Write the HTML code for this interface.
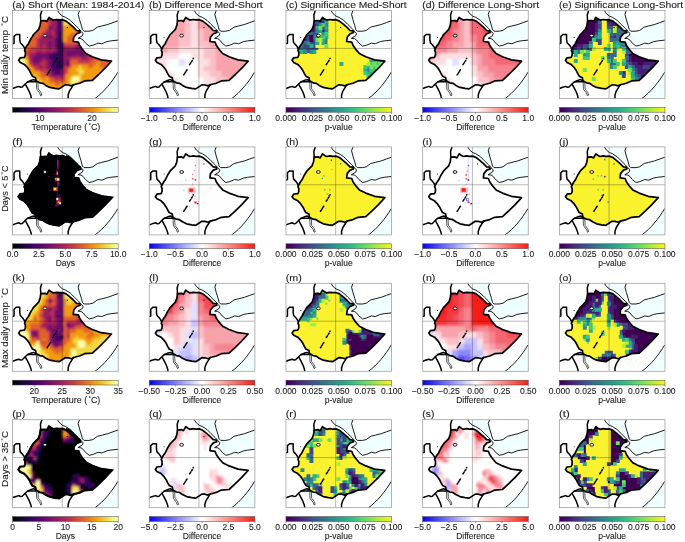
<!DOCTYPE html>
<html><head><meta charset="utf-8"><style>
html,body{margin:0;padding:0;background:#fff;}
body{width:685px;height:542px;overflow:hidden;}
svg{display:block;will-change:transform;}
text{font-family:"Liberation Sans",sans-serif;font-size:8.5px;fill:#222;stroke:#222;stroke-width:0.1px;}
</style></head><body>
<svg width="685" height="542" viewBox="0 0 685 542">
<defs>
<clipPath id="ethclip"><path d="M28.7,10.8 L32.9,10.5 L34.7,11.5 L37.0,7.4 L38.8,8.8 L41.1,10.1 L44.6,9.5 L47.0,9.9 L50.5,9.7 L54.0,11.1 L56.9,13.4 L61.3,17.2 L64.5,20.5 L67.5,20.8 L68.1,22.5 L64.6,23.7 L61.7,27.2 L61.2,31.5 L66.3,32.1 L67.5,35.3 L70.1,39.1 L73.9,43.5 L80.3,46.7 L89.2,49.9 L99.4,51.2 L93.0,58.2 L86.6,64.5 L80.3,70.3 L72.6,70.9 L67.5,73.2 L62.5,74.5 L59.3,75.9 L56.2,75.0 L53.1,74.9 L50.1,76.9 L47.0,78.9 L42.9,78.4 L37.8,77.4 L33.7,75.4 L30.7,73.3 L27.6,72.8 L24.0,70.8 L23.5,67.7 L20.4,66.2 L18.9,63.6 L17.4,60.5 L15.3,57.5 L12.3,54.4 L8.2,52.4 L6.6,50.3 L8.2,47.8 L12.3,47.3 L13.3,45.2 L13.3,42.0 L12.5,40.5 L13.3,38.3 L14.8,35.8 L16.4,33.7 L17.4,31.7 L18.9,28.6 L19.9,27.1 L21.5,24.5 L24.0,22.0 L26.6,19.4 L28.1,15.3 Z"/></clipPath>
<filter id="blur" x="-10%" y="-10%" width="120%" height="120%"><feGaussianBlur stdDeviation="1.3"/></filter>
<filter id="blurf" x="-10%" y="-10%" width="120%" height="120%"><feGaussianBlur stdDeviation="0.75"/></filter>
<filter id="blurs" x="-10%" y="-10%" width="120%" height="120%"><feGaussianBlur stdDeviation="1.0"/></filter>
<filter id="blur1" x="-50%" y="-50%" width="200%" height="200%"><feGaussianBlur stdDeviation="0.5"/></filter>
<clipPath id="boxclip"><rect x="0.5" y="0.5" width="105.6" height="88.0"/></clipPath>
<linearGradient id="g_inf" x1="0" x2="1" y1="0" y2="0"><stop offset="0.000" stop-color="#000003"/><stop offset="0.050" stop-color="#07031a"/><stop offset="0.100" stop-color="#160738"/><stop offset="0.150" stop-color="#290254"/><stop offset="0.200" stop-color="#3e0064"/><stop offset="0.250" stop-color="#52026a"/><stop offset="0.300" stop-color="#64086c"/><stop offset="0.350" stop-color="#770f6a"/><stop offset="0.400" stop-color="#8b1665"/><stop offset="0.450" stop-color="#9e1d5e"/><stop offset="0.500" stop-color="#b02754"/><stop offset="0.550" stop-color="#c13349"/><stop offset="0.600" stop-color="#d0443c"/><stop offset="0.650" stop-color="#de582e"/><stop offset="0.700" stop-color="#e8711f"/><stop offset="0.750" stop-color="#ef8c10"/><stop offset="0.800" stop-color="#f3a611"/><stop offset="0.850" stop-color="#f4c22a"/><stop offset="0.900" stop-color="#f2de4c"/><stop offset="0.950" stop-color="#f0f77a"/><stop offset="1.000" stop-color="#fcffa8"/></linearGradient><linearGradient id="g_vir" x1="0" x2="1" y1="0" y2="0"><stop offset="0.000" stop-color="#3f0051"/><stop offset="0.050" stop-color="#440862"/><stop offset="0.100" stop-color="#461b72"/><stop offset="0.150" stop-color="#452d7d"/><stop offset="0.200" stop-color="#423f84"/><stop offset="0.250" stop-color="#3d5189"/><stop offset="0.300" stop-color="#39608b"/><stop offset="0.350" stop-color="#34708c"/><stop offset="0.400" stop-color="#317f8d"/><stop offset="0.450" stop-color="#2d8e8d"/><stop offset="0.500" stop-color="#2a9d8b"/><stop offset="0.550" stop-color="#29aa89"/><stop offset="0.600" stop-color="#2eb884"/><stop offset="0.650" stop-color="#3ac57d"/><stop offset="0.700" stop-color="#4ed172"/><stop offset="0.750" stop-color="#67db65"/><stop offset="0.800" stop-color="#80e356"/><stop offset="0.850" stop-color="#9fea42"/><stop offset="0.900" stop-color="#bfef2e"/><stop offset="0.950" stop-color="#def121"/><stop offset="1.000" stop-color="#faf22d"/></linearGradient><linearGradient id="g_bwr" x1="0" x2="1" y1="0" y2="0"><stop offset="0.000" stop-color="#0200f4"/><stop offset="0.500" stop-color="#fffefe"/><stop offset="1.000" stop-color="#f81c12"/></linearGradient>
<g id="sea"><path d="M51.5,0.0 L67.8,0.0 L66.4,4.4 L67.8,9.7 L69.6,15.5 L70.7,19.7 L71.9,21.0 L77.1,21.0 L80.8,20.2 L85.3,16.9 L89.7,15.8 L95.7,14.3 L100.9,12.4 L106.0,10.5 L106.0,30.4 L98.7,31.1 L94.9,31.8 L89.7,34.0 L86.0,33.3 L80.8,35.5 L77.1,36.3 L73.4,33.3 L71.1,30.3 L68.9,28.8 L65.9,28.4 L70.6,25.6 L71.3,23.4 L69.0,21.2 L66.4,18.4 L62.3,14.4 L58.2,10.3 L53.5,7.3 L51.5,6.2 L50.3,3.5 Z"/><path d="M105.6,62.5 C100,72 92,82 83,88.5 L106,88.5 L106,62 Z"/></g>
<g id="lines" fill="none" stroke="#000" stroke-linejoin="round" stroke-linecap="round">
<path d="M30.0,0.0 L28.4,5.0 L28.7,10.8" stroke-width="1.5"/><path d="M0.0,33.8 L2.0,33.2 L2.0,26.4 L4.1,24.5 L7.7,24.5 L7.7,29.6 L8.2,32.7 L10.2,34.7 L11.8,36.8 L12.8,39.0" stroke-width="1.5"/><path d="M0.0,78.7 L3.2,77.5 L6.7,76.4 L8.6,77.3 L10.2,77.0 L13.1,74.0 L15.4,72.0 L19.4,70.2 L21.5,69.6 L24.0,70.8" stroke-width="1.5"/><path d="M15.5,71.8 L24.5,71.8" stroke-width="1.5"/><path d="M13.3,74.3 L15.3,77.9 L17.4,82.0 L18.9,86.1 L19.4,89.0" stroke-width="1.5"/><path d="M61.5,74.6 L57.4,81.1 L56.1,85.0 L56.1,89.0" stroke-width="1.5"/>
<path d="M45.3,0.3 L47.7,3.8 L50.6,6.2 L53.5,7.3 L58.2,10.3 L62.3,14.4 L66.4,18.4 L68.7,20.8" stroke-width="0.9"/><path d="M67.5,0.3 L66.1,4.4 L67.5,9.7 L69.3,15.5 L70.4,19.7 L71.9,21.2 L77.1,21.2 L80.8,20.4 L85.3,17.1 L89.7,16.0 L95.7,14.5 L100.9,12.6 L106.0,10.8" stroke-width="0.9"/><path d="M68.9,21.4 L71.1,23.4 L70.4,25.6 L65.9,28.4 L68.9,28.6 L71.1,30.1 L73.4,33.1 L77.1,36.1 L80.8,35.3 L86.0,33.1 L89.7,33.8 L94.9,31.6 L98.7,30.9 L106.0,30.1" stroke-width="0.9"/>
<path d="M105.6,62.5 C100,72 92,82 83,88.5" stroke-width="0.9"/>
<path d="M28.7,10.8 L32.9,10.5 L34.7,11.5 L37.0,7.4 L38.8,8.8 L41.1,10.1 L44.6,9.5 L47.0,9.9 L50.5,9.7 L54.0,11.1 L56.9,13.4 L61.3,17.2 L64.5,20.5 L67.5,20.8 L68.1,22.5 L64.6,23.7 L61.7,27.2 L61.2,31.5 L66.3,32.1 L67.5,35.3 L70.1,39.1 L73.9,43.5 L80.3,46.7 L89.2,49.9 L99.4,51.2 L93.0,58.2 L86.6,64.5 L80.3,70.3 L72.6,70.9 L67.5,73.2 L62.5,74.5 L59.3,75.9 L56.2,75.0 L53.1,74.9 L50.1,76.9 L47.0,78.9 L42.9,78.4 L37.8,77.4 L33.7,75.4 L30.7,73.3 L27.6,72.8 L24.0,70.8 L23.5,67.7 L20.4,66.2 L18.9,63.6 L17.4,60.5 L15.3,57.5 L12.3,54.4 L8.2,52.4 L6.6,50.3 L8.2,47.8 L12.3,47.3 L13.3,45.2 L13.3,42.0 L12.5,40.5 L13.3,38.3 L14.8,35.8 L16.4,33.7 L17.4,31.7 L18.9,28.6 L19.9,27.1 L21.5,24.5 L24.0,22.0 L26.6,19.4 L28.1,15.3 Z" stroke-width="1.7"/>
</g>
<g id="lakes"><ellipse cx="32.9" cy="25.6" rx="1.9" ry="1.4" fill="#fff" stroke="#000" stroke-width="0.9"/><path d="M24.3,72.5 L24.6,79.2 L27.6,83 L28.6,85.8 L29.8,85.2 L28.8,82.2 L26.2,79 L25.9,72.5 Z" fill="#f0ffff" stroke="#000" stroke-width="0.65"/><path d="M44.6,48.3 L44.4,48.7 M43.6,50.5 L42.8,51.6 M42,52.9 L40.8,54.7 M38.3,59.8 L37.4,61.1 M36.9,62 L36.3,62.9 M35.7,63.9 L35,64.9" stroke="#000" stroke-width="1.5" stroke-linecap="round" fill="none"/><circle cx="55.2" cy="17.4" r="0.6" fill="#000"/><circle cx="15.3" cy="27.6" r="0.5" fill="#000"/></g>
<path id="grid" d="M50.2,0.5 V88.5 M0.5,38.4 H106" stroke="#000" stroke-opacity="0.38" stroke-width="0.75" fill="none"/>
</defs>
<g transform="translate(12.06,10.00)"><g clip-path="url(#boxclip)">
<rect x="0.5" y="0.5" width="105.6" height="88.0" fill="#fff"/>
<use href="#sea" fill="#f0ffff"/>

<g clip-path="url(#ethclip)"><g filter="url(#blurs)"><path fill="#e16029" d="M0 0h24.9v10.9h-24.9zM75 0h21.9v10.9h-21.9zM0 10h36.9v3.9h-36.9zM72 10h21.9v3.9h-21.9zM0 13h36.9v3.9h-36.9zM69 13h21.9v3.9h-21.9zM0 16h36.9v3.9h-36.9zM66 16h21.9v3.9h-21.9zM0 19h33.9v3.9h-33.9zM63 19h21.9v3.9h-21.9zM0 22h30.9v3.9h-30.9zM57 22h24.9v3.9h-24.9zM99 22h11.9v3.9h-11.9zM0 25h27.9v3.9h-27.9zM54 25h24.9v3.9h-24.9zM96 25h14.9v3.9h-14.9zM0 28h24.9v3.9h-24.9zM54 28h21.9v3.9h-21.9zM93 28h17.9v3.9h-17.9zM0 31h24.9v3.9h-24.9zM51 31h15.9v3.9h-15.9zM90 31h20.9v3.9h-20.9zM0 34h24.9v3.9h-24.9zM87 34h23.9v3.9h-23.9zM0 37h18.9v3.9h-18.9zM84 37h26.9v3.9h-26.9zM0 40h15.9v3.9h-15.9zM81 40h29.9v3.9h-29.9zM9 43h6.9v3.9h-6.9zM81 43h29.9v3.9h-29.9zM81 46h29.9v3.9h-29.9zM15 49h3.9v3.9h-3.9zM57 49h9.9v3.9h-9.9zM78 49h32.9v3.9h-32.9zM15 52h3.9v3.9h-3.9zM57 52h27.9v3.9h-27.9zM87 52h23.9v3.9h-23.9zM18 55h3.9v3.9h-3.9zM57 55h3.9v3.9h-3.9zM75 55h6.9v3.9h-6.9zM87 55h23.9v3.9h-23.9zM21 58h3.9v3.9h-3.9zM54 58h3.9v3.9h-3.9zM93 58h17.9v3.9h-17.9zM27 61h6.9v3.9h-6.9zM54 61h3.9v3.9h-3.9zM96 61h14.9v3.9h-14.9zM27 64h9.9v3.9h-9.9zM51 64h3.9v3.9h-3.9zM99 64h11.9v3.9h-11.9zM30 67h3.9v3.9h-3.9zM36 67h6.9v3.9h-6.9zM51 67h3.9v3.9h-3.9zM36 70h18.9v3.9h-18.9zM42 73h6.9v3.9h-6.9zM51 73h3.9v3.9h-3.9z"/><path fill="#c33547" d="M24 0h12.9v10.9h-12.9zM36 10h3.9v3.9h-3.9zM36 13h3.9v3.9h-3.9zM33 19h3.9v3.9h-3.9zM39 19h3.9v3.9h-3.9zM30 22h3.9v3.9h-3.9zM39 22h3.9v3.9h-3.9zM27 25h3.9v3.9h-3.9zM24 28h3.9v3.9h-3.9zM24 31h3.9v3.9h-3.9zM24 34h3.9v3.9h-3.9zM30 34h3.9v3.9h-3.9zM51 34h12.9v3.9h-12.9zM18 37h18.9v3.9h-18.9zM39 37h3.9v3.9h-3.9zM15 40h9.9v3.9h-9.9zM30 40h3.9v3.9h-3.9zM15 43h3.9v3.9h-3.9zM78 43h3.9v3.9h-3.9zM15 46h3.9v3.9h-3.9zM57 46h12.9v3.9h-12.9zM75 46h6.9v3.9h-6.9zM30 49h3.9v3.9h-3.9zM66 49h12.9v3.9h-12.9zM18 52h3.9v3.9h-3.9zM27 52h6.9v3.9h-6.9zM21 55h6.9v3.9h-6.9zM30 55h3.9v3.9h-3.9zM51 55h6.9v3.9h-6.9zM24 58h12.9v3.9h-12.9zM51 58h3.9v3.9h-3.9zM33 61h3.9v3.9h-3.9zM51 61h3.9v3.9h-3.9zM36 64h3.9v3.9h-3.9zM42 67h9.9v3.9h-9.9z"/><path fill="#9b1c5f" d="M36 0h9.9v10.9h-9.9zM39 10h6.9v3.9h-6.9zM39 13h6.9v3.9h-6.9zM99 13h11.9v3.9h-11.9zM39 16h6.9v3.9h-6.9zM96 16h14.9v3.9h-14.9zM36 19h3.9v3.9h-3.9zM93 19h17.9v3.9h-17.9zM33 22h6.9v3.9h-6.9zM42 22h3.9v3.9h-3.9zM90 22h9.9v3.9h-9.9zM30 25h6.9v3.9h-6.9zM39 25h6.9v3.9h-6.9zM87 25h9.9v3.9h-9.9zM27 28h15.9v3.9h-15.9zM84 28h9.9v3.9h-9.9zM27 31h9.9v3.9h-9.9zM39 31h3.9v3.9h-3.9zM66 31h6.9v3.9h-6.9zM81 31h9.9v3.9h-9.9zM27 34h3.9v3.9h-3.9zM33 34h3.9v3.9h-3.9zM39 34h3.9v3.9h-3.9zM63 34h6.9v3.9h-6.9zM78 34h9.9v3.9h-9.9zM36 37h3.9v3.9h-3.9zM42 37h3.9v3.9h-3.9zM51 37h12.9v3.9h-12.9zM75 37h9.9v3.9h-9.9zM24 40h6.9v3.9h-6.9zM33 40h9.9v3.9h-9.9zM51 40h3.9v3.9h-3.9zM72 40h9.9v3.9h-9.9zM18 43h6.9v3.9h-6.9zM51 43h3.9v3.9h-3.9zM63 43h3.9v3.9h-3.9zM72 43h6.9v3.9h-6.9zM18 46h3.9v3.9h-3.9zM30 46h3.9v3.9h-3.9zM51 46h6.9v3.9h-6.9zM69 46h6.9v3.9h-6.9zM18 49h3.9v3.9h-3.9zM27 49h3.9v3.9h-3.9zM33 49h3.9v3.9h-3.9zM51 49h3.9v3.9h-3.9zM21 52h6.9v3.9h-6.9zM33 52h3.9v3.9h-3.9zM51 52h3.9v3.9h-3.9zM27 55h3.9v3.9h-3.9zM33 55h3.9v3.9h-3.9zM36 58h3.9v3.9h-3.9zM36 61h3.9v3.9h-3.9zM39 64h12.9v3.9h-12.9z"/><path fill="#450067" d="M45 0h6.9v10.9h-6.9zM45 10h6.9v3.9h-6.9zM45 13h6.9v3.9h-6.9zM45 16h6.9v3.9h-6.9zM45 19h6.9v3.9h-6.9zM48 22h3.9v3.9h-3.9zM45 25h6.9v3.9h-6.9zM48 28h3.9v3.9h-3.9zM48 31h3.9v3.9h-3.9zM48 34h3.9v3.9h-3.9zM45 37h3.9v3.9h-3.9zM45 40h3.9v3.9h-3.9zM36 43h6.9v3.9h-6.9zM48 43h3.9v3.9h-3.9zM36 46h15.9v3.9h-15.9zM39 49h6.9v3.9h-6.9zM48 49h3.9v3.9h-3.9zM39 52h6.9v3.9h-6.9zM54 52h3.9v3.9h-3.9zM39 55h6.9v3.9h-6.9zM39 58h9.9v3.9h-9.9zM42 61h6.9v3.9h-6.9z"/><path fill="#f3d743" d="M51 0h12.9v10.9h-12.9zM51 10h9.9v3.9h-9.9zM51 13h6.9v3.9h-6.9zM0 43h9.9v3.9h-9.9zM0 46h12.9v3.9h-12.9zM12 49h3.9v3.9h-3.9zM0 52h15.9v3.9h-15.9zM0 55h15.9v3.9h-15.9zM66 55h3.9v3.9h-3.9zM0 58h15.9v3.9h-15.9zM63 58h9.9v3.9h-9.9zM0 61h12.9v3.9h-12.9zM66 61h6.9v3.9h-6.9zM0 64h9.9v3.9h-9.9zM15 64h9.9v3.9h-9.9zM60 64h9.9v3.9h-9.9zM12 67h15.9v3.9h-15.9zM57 67h3.9v3.9h-3.9zM66 67h3.9v3.9h-3.9zM9 70h21.9v3.9h-21.9zM57 70h3.9v3.9h-3.9zM63 70h6.9v3.9h-6.9zM0 73h27.9v3.9h-27.9zM57 73h6.9v3.9h-6.9zM0 76h24.9v13.9h-24.9zM60 76h3.9v13.9h-3.9z"/><path fill="#f29b0d" d="M63 0h12.9v10.9h-12.9zM60 10h12.9v3.9h-12.9zM57 13h12.9v3.9h-12.9zM51 16h15.9v3.9h-15.9zM51 19h12.9v3.9h-12.9zM51 22h6.9v3.9h-6.9zM51 25h3.9v3.9h-3.9zM51 28h3.9v3.9h-3.9zM12 46h3.9v3.9h-3.9zM84 52h3.9v3.9h-3.9zM15 55h3.9v3.9h-3.9zM60 55h6.9v3.9h-6.9zM69 55h6.9v3.9h-6.9zM81 55h6.9v3.9h-6.9zM15 58h6.9v3.9h-6.9zM57 58h6.9v3.9h-6.9zM72 58h21.9v3.9h-21.9zM12 61h15.9v3.9h-15.9zM57 61h9.9v3.9h-9.9zM72 61h24.9v3.9h-24.9zM9 64h6.9v3.9h-6.9zM24 64h3.9v3.9h-3.9zM54 64h6.9v3.9h-6.9zM69 64h30.9v3.9h-30.9zM0 67h12.9v3.9h-12.9zM27 67h3.9v3.9h-3.9zM33 67h3.9v3.9h-3.9zM54 67h3.9v3.9h-3.9zM69 67h41.9v3.9h-41.9zM0 70h9.9v3.9h-9.9zM30 70h6.9v3.9h-6.9zM54 70h3.9v3.9h-3.9zM69 70h41.9v3.9h-41.9zM27 73h15.9v3.9h-15.9zM48 73h3.9v3.9h-3.9zM54 73h3.9v3.9h-3.9zM63 73h47.9v3.9h-47.9zM24 76h36.9v13.9h-36.9zM63 76h47.9v13.9h-47.9z"/><path fill="#710d6b" d="M96 0h14.9v10.9h-14.9zM93 10h17.9v3.9h-17.9zM90 13h9.9v3.9h-9.9zM36 16h3.9v3.9h-3.9zM87 16h9.9v3.9h-9.9zM42 19h3.9v3.9h-3.9zM84 19h9.9v3.9h-9.9zM81 22h9.9v3.9h-9.9zM36 25h3.9v3.9h-3.9zM78 25h9.9v3.9h-9.9zM42 28h3.9v3.9h-3.9zM75 28h9.9v3.9h-9.9zM36 31h3.9v3.9h-3.9zM42 31h3.9v3.9h-3.9zM72 31h9.9v3.9h-9.9zM36 34h3.9v3.9h-3.9zM42 34h3.9v3.9h-3.9zM69 34h9.9v3.9h-9.9zM63 37h12.9v3.9h-12.9zM42 40h3.9v3.9h-3.9zM54 40h18.9v3.9h-18.9zM24 43h12.9v3.9h-12.9zM54 43h9.9v3.9h-9.9zM66 43h6.9v3.9h-6.9zM21 46h9.9v3.9h-9.9zM33 46h3.9v3.9h-3.9zM21 49h6.9v3.9h-6.9zM36 49h3.9v3.9h-3.9zM54 49h3.9v3.9h-3.9zM36 52h3.9v3.9h-3.9zM36 55h3.9v3.9h-3.9zM48 58h3.9v3.9h-3.9zM39 61h3.9v3.9h-3.9zM48 61h3.9v3.9h-3.9z"/><path fill="#1a073f" d="M45 22h3.9v3.9h-3.9zM45 28h3.9v3.9h-3.9zM45 31h3.9v3.9h-3.9zM45 34h3.9v3.9h-3.9zM48 37h3.9v3.9h-3.9zM48 40h3.9v3.9h-3.9zM42 43h6.9v3.9h-6.9zM45 49h3.9v3.9h-3.9zM45 52h6.9v3.9h-6.9zM45 55h6.9v3.9h-6.9z"/><path fill="#fcffa8" d="M0 49h12.9v3.9h-12.9zM60 67h6.9v3.9h-6.9zM60 70h3.9v3.9h-3.9z"/></g></g>
<use href="#grid"/>
<use href="#lines"/>
<use href="#lakes"/>
</g>
<rect x="0.5" y="0.5" width="105.6" height="88.0" fill="none" stroke="#a0a0a0" stroke-width="0.8"/>
</g><g transform="translate(148.76,10.00)"><g clip-path="url(#boxclip)">
<rect x="0.5" y="0.5" width="105.6" height="88.0" fill="#fff"/>
<use href="#sea" fill="#f0ffff"/>

<g clip-path="url(#ethclip)"><g filter="url(#blur)"><path fill="#f8a2ab" d="M0 0h36.9v13.9h-36.9zM48 0h62.9v13.9h-62.9zM0 13h36.9v6.9h-36.9zM48 13h62.9v6.9h-62.9zM0 19h36.9v6.9h-36.9zM54 19h56.9v6.9h-56.9zM0 25h30.9v6.9h-30.9zM54 25h56.9v6.9h-56.9zM0 31h30.9v6.9h-30.9zM60 31h50.9v6.9h-50.9zM0 37h18.9v6.9h-18.9zM66 37h44.9v6.9h-44.9zM66 43h44.9v6.9h-44.9zM66 49h44.9v6.9h-44.9zM66 55h44.9v6.9h-44.9zM72 61h38.9v6.9h-38.9zM78 67h32.9v6.9h-32.9zM84 73h26.9v16.9h-26.9z"/><path fill="#fac0c7" d="M36 0h6.9v13.9h-6.9zM36 13h6.9v6.9h-6.9zM36 19h6.9v6.9h-6.9zM48 19h6.9v6.9h-6.9zM30 25h12.9v6.9h-12.9zM48 25h6.9v6.9h-6.9zM30 31h12.9v6.9h-12.9zM48 31h12.9v6.9h-12.9zM18 37h12.9v6.9h-12.9zM54 37h12.9v6.9h-12.9zM54 43h12.9v6.9h-12.9zM60 49h6.9v6.9h-6.9zM54 55h12.9v6.9h-12.9zM60 61h12.9v6.9h-12.9zM66 67h12.9v6.9h-12.9zM66 73h18.9v16.9h-18.9z"/><path fill="#fcdfe2" d="M42 0h6.9v13.9h-6.9zM42 13h6.9v6.9h-6.9zM42 19h6.9v6.9h-6.9zM42 25h6.9v6.9h-6.9zM42 31h6.9v6.9h-6.9zM30 37h24.9v6.9h-24.9zM0 43h30.9v6.9h-30.9zM42 43h12.9v6.9h-12.9zM0 49h18.9v6.9h-18.9zM48 49h12.9v6.9h-12.9zM0 55h18.9v6.9h-18.9zM48 55h6.9v6.9h-6.9zM0 61h24.9v6.9h-24.9zM48 61h12.9v6.9h-12.9zM0 67h30.9v6.9h-30.9zM54 67h12.9v6.9h-12.9zM0 73h36.9v16.9h-36.9zM54 73h12.9v16.9h-12.9z"/><path fill="#fffefe" d="M30 43h12.9v6.9h-12.9zM18 49h12.9v6.9h-12.9zM36 49h12.9v6.9h-12.9zM18 55h30.9v6.9h-30.9zM24 61h24.9v6.9h-24.9zM30 67h24.9v6.9h-24.9zM36 73h18.9v16.9h-18.9z"/><path fill="#e2e0fe" d="M30 49h6.9v6.9h-6.9z"/></g></g>
<use href="#grid"/>
<use href="#lines"/>
<use href="#lakes"/>
</g>
<rect x="0.5" y="0.5" width="105.6" height="88.0" fill="none" stroke="#a0a0a0" stroke-width="0.8"/>
</g><g transform="translate(285.46,10.00)"><g clip-path="url(#boxclip)">
<rect x="0.5" y="0.5" width="105.6" height="88.0" fill="#fff"/>
<use href="#sea" fill="#f0ffff"/>

<g clip-path="url(#ethclip)"><g filter="url(#blurf)"><path fill="#461f75" d="M0 0h24.9v10.9h-24.9zM9 10h18.9v3.9h-18.9zM36 10h3.9v3.9h-3.9zM12 13h18.9v3.9h-18.9zM0 16h9.9v3.9h-9.9zM15 16h15.9v3.9h-15.9zM0 19h12.9v3.9h-12.9zM18 19h12.9v3.9h-12.9zM36 19h3.9v3.9h-3.9zM0 22h15.9v3.9h-15.9zM9 25h9.9v3.9h-9.9zM12 28h9.9v3.9h-9.9z"/><path fill="#366b8c" d="M24 0h12.9v10.9h-12.9zM27 10h6.9v3.9h-6.9zM21 22h6.9v3.9h-6.9zM30 22h3.9v3.9h-3.9zM0 25h9.9v3.9h-9.9zM30 25h3.9v3.9h-3.9zM0 28h12.9v3.9h-12.9zM27 28h3.9v3.9h-3.9zM39 28h3.9v3.9h-3.9zM0 31h21.9v3.9h-21.9zM39 31h3.9v3.9h-3.9zM9 34h9.9v3.9h-9.9zM27 34h3.9v3.9h-3.9zM12 37h9.9v3.9h-9.9zM30 37h3.9v3.9h-3.9zM99 37h11.9v3.9h-11.9zM96 40h14.9v3.9h-14.9zM96 43h14.9v3.9h-14.9zM96 46h14.9v3.9h-14.9zM96 49h14.9v3.9h-14.9zM99 52h11.9v3.9h-11.9z"/><path fill="#404686" d="M36 0h6.9v10.9h-6.9zM0 10h9.9v3.9h-9.9zM33 10h3.9v3.9h-3.9zM0 13h12.9v3.9h-12.9zM30 13h3.9v3.9h-3.9zM9 16h6.9v3.9h-6.9zM36 16h3.9v3.9h-3.9zM12 19h6.9v3.9h-6.9zM15 22h6.9v3.9h-6.9zM27 22h3.9v3.9h-3.9zM18 25h6.9v3.9h-6.9zM21 28h3.9v3.9h-3.9zM24 31h6.9v3.9h-6.9zM18 34h6.9v3.9h-6.9zM21 37h9.9v3.9h-9.9zM21 40h3.9v3.9h-3.9z"/><path fill="#faf22d" d="M42 0h68.9v10.9h-68.9zM42 10h68.9v3.9h-68.9zM42 13h68.9v3.9h-68.9zM42 16h68.9v3.9h-68.9zM42 19h68.9v3.9h-68.9zM33 22h3.9v3.9h-3.9zM42 22h68.9v3.9h-68.9zM42 25h57.9v3.9h-57.9zM42 28h54.9v3.9h-54.9zM33 31h3.9v3.9h-3.9zM42 31h51.9v3.9h-51.9zM30 34h9.9v3.9h-9.9zM42 34h48.9v3.9h-48.9zM33 37h54.9v3.9h-54.9zM30 40h54.9v3.9h-54.9zM0 43h84.9v3.9h-84.9zM0 46h84.9v3.9h-84.9zM0 49h84.9v3.9h-84.9zM0 52h54.9v3.9h-54.9zM57 52h24.9v3.9h-24.9zM0 55h78.9v3.9h-78.9zM0 58h78.9v3.9h-78.9zM0 61h78.9v3.9h-78.9zM0 64h81.9v3.9h-81.9zM0 67h84.9v3.9h-84.9zM0 70h87.9v3.9h-87.9zM0 73h90.9v3.9h-90.9zM0 76h93.9v13.9h-93.9z"/><path fill="#29ac88" d="M39 10h3.9v3.9h-3.9zM30 16h3.9v3.9h-3.9zM39 16h3.9v3.9h-3.9zM33 19h3.9v3.9h-3.9zM39 25h3.9v3.9h-3.9zM36 28h3.9v3.9h-3.9zM30 31h3.9v3.9h-3.9zM36 31h3.9v3.9h-3.9zM0 34h9.9v3.9h-9.9zM24 34h3.9v3.9h-3.9zM0 37h12.9v3.9h-12.9zM0 40h18.9v3.9h-18.9zM27 40h3.9v3.9h-3.9zM93 43h3.9v3.9h-3.9zM93 46h3.9v3.9h-3.9zM84 49h6.9v3.9h-6.9zM93 49h3.9v3.9h-3.9zM54 52h3.9v3.9h-3.9zM81 55h3.9v3.9h-3.9zM78 58h3.9v3.9h-3.9zM87 58h6.9v3.9h-6.9zM81 61h15.9v3.9h-15.9zM87 64h12.9v3.9h-12.9zM90 67h20.9v3.9h-20.9zM93 70h17.9v3.9h-17.9zM96 73h14.9v3.9h-14.9zM99 76h11.9v13.9h-11.9z"/><path fill="#2e8b8d" d="M33 13h3.9v3.9h-3.9zM39 13h3.9v3.9h-3.9zM30 19h3.9v3.9h-3.9zM39 19h3.9v3.9h-3.9zM36 22h3.9v3.9h-3.9zM27 25h3.9v3.9h-3.9zM21 31h3.9v3.9h-3.9zM18 40h3.9v3.9h-3.9zM24 40h3.9v3.9h-3.9zM81 58h3.9v3.9h-3.9z"/><path fill="#40c97a" d="M36 13h3.9v3.9h-3.9zM39 22h3.9v3.9h-3.9zM33 25h6.9v3.9h-6.9zM99 25h11.9v3.9h-11.9zM96 28h14.9v3.9h-14.9zM93 31h17.9v3.9h-17.9zM90 34h20.9v3.9h-20.9zM87 37h12.9v3.9h-12.9zM84 40h12.9v3.9h-12.9zM84 43h9.9v3.9h-9.9zM84 46h9.9v3.9h-9.9zM90 49h3.9v3.9h-3.9zM84 52h3.9v3.9h-3.9zM90 52h3.9v3.9h-3.9zM78 55h3.9v3.9h-3.9zM87 55h3.9v3.9h-3.9zM84 58h3.9v3.9h-3.9zM78 61h3.9v3.9h-3.9zM81 64h6.9v3.9h-6.9zM84 67h6.9v3.9h-6.9zM87 70h6.9v3.9h-6.9zM90 73h6.9v3.9h-6.9zM93 76h6.9v13.9h-6.9z"/><path fill="#75e05c" d="M33 16h3.9v3.9h-3.9zM30 28h3.9v3.9h-3.9zM39 34h3.9v3.9h-3.9zM87 52h3.9v3.9h-3.9zM93 52h6.9v3.9h-6.9zM84 55h3.9v3.9h-3.9zM90 55h20.9v3.9h-20.9zM93 58h17.9v3.9h-17.9zM96 61h14.9v3.9h-14.9zM99 64h11.9v3.9h-11.9z"/><path fill="#3f0051" d="M24 25h3.9v3.9h-3.9zM24 28h3.9v3.9h-3.9z"/><path fill="#b7ee32" d="M33 28h3.9v3.9h-3.9zM81 52h3.9v3.9h-3.9z"/></g></g>
<use href="#grid"/>
<use href="#lines"/>
<use href="#lakes"/>
</g>
<rect x="0.5" y="0.5" width="105.6" height="88.0" fill="none" stroke="#a0a0a0" stroke-width="0.8"/>
</g><g transform="translate(422.16,10.00)"><g clip-path="url(#boxclip)">
<rect x="0.5" y="0.5" width="105.6" height="88.0" fill="#fff"/>
<use href="#sea" fill="#f0ffff"/>

<g clip-path="url(#ethclip)"><g filter="url(#blur)"><path fill="#f34d59" d="M0 0h36.9v13.9h-36.9zM72 0h38.9v13.9h-38.9zM0 13h30.9v6.9h-30.9zM60 13h50.9v6.9h-50.9zM0 19h30.9v6.9h-30.9zM60 19h50.9v6.9h-50.9zM0 25h24.9v6.9h-24.9zM72 25h24.9v6.9h-24.9zM0 31h18.9v6.9h-18.9zM66 31h24.9v6.9h-24.9zM72 37h12.9v6.9h-12.9z"/><path fill="#f8a2ab" d="M36 0h6.9v13.9h-6.9zM36 13h6.9v6.9h-6.9zM36 19h6.9v6.9h-6.9zM36 25h6.9v6.9h-6.9zM30 31h12.9v6.9h-12.9zM48 31h6.9v6.9h-6.9zM24 37h12.9v6.9h-12.9zM48 37h6.9v6.9h-6.9zM54 43h6.9v6.9h-6.9zM54 49h6.9v6.9h-6.9zM54 55h12.9v6.9h-12.9zM60 61h12.9v6.9h-12.9zM66 67h12.9v6.9h-12.9zM66 73h18.9v16.9h-18.9z"/><path fill="#fac0c7" d="M42 0h6.9v13.9h-6.9zM42 13h6.9v6.9h-6.9zM42 19h6.9v6.9h-6.9zM42 25h6.9v6.9h-6.9zM42 31h6.9v6.9h-6.9zM36 37h12.9v6.9h-12.9zM0 43h18.9v6.9h-18.9zM48 43h6.9v6.9h-6.9zM0 49h12.9v6.9h-12.9zM48 49h6.9v6.9h-6.9zM54 61h6.9v6.9h-6.9zM54 67h12.9v6.9h-12.9z"/><path fill="#f46673" d="M48 0h24.9v13.9h-24.9zM30 13h6.9v6.9h-6.9zM48 13h12.9v6.9h-12.9zM48 19h12.9v6.9h-12.9zM24 25h6.9v6.9h-6.9zM54 25h18.9v6.9h-18.9zM96 25h14.9v6.9h-14.9zM18 31h6.9v6.9h-6.9zM54 31h12.9v6.9h-12.9zM90 31h20.9v6.9h-20.9zM66 37h6.9v6.9h-6.9zM84 37h26.9v6.9h-26.9zM66 43h44.9v6.9h-44.9zM72 49h38.9v6.9h-38.9zM96 55h14.9v6.9h-14.9z"/><path fill="#f68490" d="M30 19h6.9v6.9h-6.9zM30 25h6.9v6.9h-6.9zM48 25h6.9v6.9h-6.9zM24 31h6.9v6.9h-6.9zM0 37h24.9v6.9h-24.9zM54 37h12.9v6.9h-12.9zM60 43h6.9v6.9h-6.9zM60 49h12.9v6.9h-12.9zM66 55h30.9v6.9h-30.9zM72 61h38.9v6.9h-38.9zM78 67h32.9v6.9h-32.9zM84 73h26.9v16.9h-26.9z"/><path fill="#fcdfe2" d="M18 43h30.9v6.9h-30.9zM12 49h12.9v6.9h-12.9zM0 55h18.9v6.9h-18.9zM48 55h6.9v6.9h-6.9zM0 61h24.9v6.9h-24.9zM48 61h6.9v6.9h-6.9zM0 67h30.9v6.9h-30.9zM0 73h36.9v16.9h-36.9zM54 73h12.9v16.9h-12.9z"/><path fill="#fffefe" d="M24 49h6.9v6.9h-6.9zM36 49h12.9v6.9h-12.9zM18 55h30.9v6.9h-30.9zM24 61h24.9v6.9h-24.9zM30 67h24.9v6.9h-24.9zM36 73h18.9v16.9h-18.9z"/><path fill="#e2e0fe" d="M30 49h6.9v6.9h-6.9z"/></g></g>
<use href="#grid"/>
<use href="#lines"/>
<use href="#lakes"/>
</g>
<rect x="0.5" y="0.5" width="105.6" height="88.0" fill="none" stroke="#a0a0a0" stroke-width="0.8"/>
</g><g transform="translate(558.86,10.00)"><g clip-path="url(#boxclip)">
<rect x="0.5" y="0.5" width="105.6" height="88.0" fill="#fff"/>
<use href="#sea" fill="#f0ffff"/>

<g clip-path="url(#ethclip)"><g filter="url(#blurf)"><path fill="#3f0051" d="M0 0h42.9v10.9h-42.9zM0 10h39.9v3.9h-39.9zM0 13h36.9v3.9h-36.9zM99 13h11.9v3.9h-11.9zM0 16h36.9v3.9h-36.9zM96 16h14.9v3.9h-14.9zM0 19h36.9v3.9h-36.9zM93 19h17.9v3.9h-17.9zM0 22h36.9v3.9h-36.9zM90 22h20.9v3.9h-20.9zM0 25h33.9v3.9h-33.9zM87 25h23.9v3.9h-23.9zM0 28h33.9v3.9h-33.9zM84 28h26.9v3.9h-26.9zM0 31h30.9v3.9h-30.9zM81 31h29.9v3.9h-29.9zM0 34h18.9v3.9h-18.9zM78 34h32.9v3.9h-32.9zM0 37h15.9v3.9h-15.9zM75 37h35.9v3.9h-35.9zM72 40h38.9v3.9h-38.9zM69 43h41.9v3.9h-41.9zM72 46h38.9v3.9h-38.9zM72 49h38.9v3.9h-38.9zM78 52h6.9v3.9h-6.9zM99 52h11.9v3.9h-11.9z"/><path fill="#faf22d" d="M42 0h6.9v10.9h-6.9zM42 10h6.9v3.9h-6.9zM42 13h6.9v3.9h-6.9zM42 16h6.9v3.9h-6.9zM42 19h6.9v3.9h-6.9zM42 22h9.9v3.9h-9.9zM42 25h9.9v3.9h-9.9zM42 28h9.9v3.9h-9.9zM33 31h6.9v3.9h-6.9zM42 31h12.9v3.9h-12.9zM33 34h15.9v3.9h-15.9zM51 34h3.9v3.9h-3.9zM36 37h9.9v3.9h-9.9zM51 37h3.9v3.9h-3.9zM60 37h3.9v3.9h-3.9zM30 40h24.9v3.9h-24.9zM57 40h6.9v3.9h-6.9zM0 43h15.9v3.9h-15.9zM18 43h6.9v3.9h-6.9zM30 43h18.9v3.9h-18.9zM57 43h9.9v3.9h-9.9zM0 46h24.9v3.9h-24.9zM30 46h12.9v3.9h-12.9zM45 46h3.9v3.9h-3.9zM54 46h12.9v3.9h-12.9zM0 49h15.9v3.9h-15.9zM18 49h30.9v3.9h-30.9zM57 49h6.9v3.9h-6.9zM0 52h51.9v3.9h-51.9zM60 52h3.9v3.9h-3.9zM0 55h51.9v3.9h-51.9zM57 55h9.9v3.9h-9.9zM0 58h24.9v3.9h-24.9zM27 58h42.9v3.9h-42.9zM0 61h60.9v3.9h-60.9zM66 61h3.9v3.9h-3.9zM0 64h63.9v3.9h-63.9zM66 64h6.9v3.9h-6.9zM0 67h33.9v3.9h-33.9zM36 67h36.9v3.9h-36.9zM0 70h75.9v3.9h-75.9zM0 73h78.9v3.9h-78.9zM0 76h81.9v13.9h-81.9z"/><path fill="#461f75" d="M48 0h15.9v10.9h-15.9zM48 10h12.9v3.9h-12.9zM36 13h3.9v3.9h-3.9zM51 13h6.9v3.9h-6.9zM36 16h3.9v3.9h-3.9zM36 19h3.9v3.9h-3.9zM54 25h3.9v3.9h-3.9zM18 34h6.9v3.9h-6.9zM15 37h3.9v3.9h-3.9zM21 37h3.9v3.9h-3.9zM27 37h3.9v3.9h-3.9zM69 46h3.9v3.9h-3.9zM69 49h3.9v3.9h-3.9zM72 52h6.9v3.9h-6.9zM84 52h15.9v3.9h-15.9zM75 55h9.9v3.9h-9.9zM90 55h20.9v3.9h-20.9zM78 58h32.9v3.9h-32.9zM63 61h3.9v3.9h-3.9zM78 61h32.9v3.9h-32.9zM81 64h29.9v3.9h-29.9zM84 67h26.9v3.9h-26.9zM87 70h23.9v3.9h-23.9zM90 73h20.9v3.9h-20.9zM93 76h17.9v13.9h-17.9z"/><path fill="#404686" d="M63 0h6.9v10.9h-6.9zM96 0h14.9v10.9h-14.9zM60 10h6.9v3.9h-6.9zM93 10h17.9v3.9h-17.9zM39 13h3.9v3.9h-3.9zM48 13h3.9v3.9h-3.9zM57 13h6.9v3.9h-6.9zM90 13h9.9v3.9h-9.9zM39 16h3.9v3.9h-3.9zM51 16h3.9v3.9h-3.9zM57 16h3.9v3.9h-3.9zM87 16h9.9v3.9h-9.9zM84 19h9.9v3.9h-9.9zM36 22h3.9v3.9h-3.9zM54 22h3.9v3.9h-3.9zM81 22h9.9v3.9h-9.9zM33 25h3.9v3.9h-3.9zM51 25h3.9v3.9h-3.9zM78 25h9.9v3.9h-9.9zM36 28h6.9v3.9h-6.9zM75 28h9.9v3.9h-9.9zM39 31h3.9v3.9h-3.9zM72 31h9.9v3.9h-9.9zM24 34h6.9v3.9h-6.9zM69 34h9.9v3.9h-9.9zM18 37h3.9v3.9h-3.9zM30 37h3.9v3.9h-3.9zM66 37h9.9v3.9h-9.9zM0 40h15.9v3.9h-15.9zM66 43h3.9v3.9h-3.9zM66 49h3.9v3.9h-3.9zM69 52h3.9v3.9h-3.9zM66 55h3.9v3.9h-3.9zM84 55h6.9v3.9h-6.9zM75 58h3.9v3.9h-3.9zM75 61h3.9v3.9h-3.9zM63 64h3.9v3.9h-3.9zM78 64h3.9v3.9h-3.9z"/><path fill="#366b8c" d="M69 0h27.9v10.9h-27.9zM39 10h3.9v3.9h-3.9zM66 10h27.9v3.9h-27.9zM63 13h27.9v3.9h-27.9zM48 16h3.9v3.9h-3.9zM60 16h27.9v3.9h-27.9zM51 19h3.9v3.9h-3.9zM57 19h27.9v3.9h-27.9zM51 22h3.9v3.9h-3.9zM57 22h24.9v3.9h-24.9zM57 25h21.9v3.9h-21.9zM51 28h12.9v3.9h-12.9zM69 28h6.9v3.9h-6.9zM30 31h3.9v3.9h-3.9zM66 31h6.9v3.9h-6.9zM63 34h6.9v3.9h-6.9zM24 37h3.9v3.9h-3.9zM18 40h3.9v3.9h-3.9zM54 40h3.9v3.9h-3.9zM66 40h6.9v3.9h-6.9zM48 43h9.9v3.9h-9.9zM51 46h3.9v3.9h-3.9zM66 46h3.9v3.9h-3.9zM51 49h3.9v3.9h-3.9zM51 52h6.9v3.9h-6.9zM66 52h3.9v3.9h-3.9zM72 55h3.9v3.9h-3.9zM75 64h3.9v3.9h-3.9zM78 67h6.9v3.9h-6.9zM78 70h9.9v3.9h-9.9zM78 73h12.9v3.9h-12.9zM81 76h12.9v13.9h-12.9z"/><path fill="#b7ee32" d="M54 16h3.9v3.9h-3.9zM54 19h3.9v3.9h-3.9zM33 37h3.9v3.9h-3.9zM57 37h3.9v3.9h-3.9zM24 40h3.9v3.9h-3.9zM63 40h3.9v3.9h-3.9zM69 61h3.9v3.9h-3.9z"/><path fill="#2e8b8d" d="M39 19h3.9v3.9h-3.9zM36 25h3.9v3.9h-3.9zM63 28h6.9v3.9h-6.9zM54 31h3.9v3.9h-3.9zM60 31h6.9v3.9h-6.9zM60 34h3.9v3.9h-3.9zM54 37h3.9v3.9h-3.9zM24 43h3.9v3.9h-3.9zM48 46h3.9v3.9h-3.9zM51 55h3.9v3.9h-3.9zM72 58h3.9v3.9h-3.9zM60 61h3.9v3.9h-3.9zM75 67h3.9v3.9h-3.9zM75 70h3.9v3.9h-3.9z"/><path fill="#40c97a" d="M48 19h3.9v3.9h-3.9zM33 28h3.9v3.9h-3.9zM57 34h3.9v3.9h-3.9zM63 37h3.9v3.9h-3.9zM27 40h3.9v3.9h-3.9zM24 46h6.9v3.9h-6.9zM48 49h3.9v3.9h-3.9zM54 49h3.9v3.9h-3.9zM63 49h3.9v3.9h-3.9zM57 52h3.9v3.9h-3.9zM54 55h3.9v3.9h-3.9zM72 67h3.9v3.9h-3.9z"/><path fill="#29ac88" d="M39 22h3.9v3.9h-3.9zM39 25h3.9v3.9h-3.9zM57 31h3.9v3.9h-3.9zM30 34h3.9v3.9h-3.9zM54 34h3.9v3.9h-3.9zM45 37h6.9v3.9h-6.9zM15 40h3.9v3.9h-3.9zM15 43h3.9v3.9h-3.9zM27 43h3.9v3.9h-3.9zM15 49h3.9v3.9h-3.9zM63 52h3.9v3.9h-3.9zM69 55h3.9v3.9h-3.9zM72 61h3.9v3.9h-3.9zM72 64h3.9v3.9h-3.9z"/><path fill="#75e05c" d="M48 34h3.9v3.9h-3.9zM21 40h3.9v3.9h-3.9zM42 46h3.9v3.9h-3.9zM24 58h3.9v3.9h-3.9zM69 58h3.9v3.9h-3.9zM33 67h3.9v3.9h-3.9z"/></g></g>
<use href="#grid"/>
<use href="#lines"/>
<use href="#lakes"/>
</g>
<rect x="0.5" y="0.5" width="105.6" height="88.0" fill="none" stroke="#a0a0a0" stroke-width="0.8"/>
</g><g transform="translate(12.06,146.40)"><g clip-path="url(#boxclip)">
<rect x="0.5" y="0.5" width="105.6" height="88.0" fill="#fff"/>
<use href="#sea" fill="#f0ffff"/>
<path d="M28.7,10.8 L32.9,10.5 L34.7,11.5 L37.0,7.4 L38.8,8.8 L41.1,10.1 L44.6,9.5 L47.0,9.9 L50.5,9.7 L54.0,11.1 L56.9,13.4 L61.3,17.2 L64.5,20.5 L67.5,20.8 L68.1,22.5 L64.6,23.7 L61.7,27.2 L61.2,31.5 L66.3,32.1 L67.5,35.3 L70.1,39.1 L73.9,43.5 L80.3,46.7 L89.2,49.9 L99.4,51.2 L93.0,58.2 L86.6,64.5 L80.3,70.3 L72.6,70.9 L67.5,73.2 L62.5,74.5 L59.3,75.9 L56.2,75.0 L53.1,74.9 L50.1,76.9 L47.0,78.9 L42.9,78.4 L37.8,77.4 L33.7,75.4 L30.7,73.3 L27.6,72.8 L24.0,70.8 L23.5,67.7 L20.4,66.2 L18.9,63.6 L17.4,60.5 L15.3,57.5 L12.3,54.4 L8.2,52.4 L6.6,50.3 L8.2,47.8 L12.3,47.3 L13.3,45.2 L13.3,42.0 L12.5,40.5 L13.3,38.3 L14.8,35.8 L16.4,33.7 L17.4,31.7 L18.9,28.6 L19.9,27.1 L21.5,24.5 L24.0,22.0 L26.6,19.4 L28.1,15.3 Z" fill="#000004" stroke="#000004" stroke-width="2.6" stroke-linejoin="miter"/><path d="M53.1,11.2 L54.5,8.5 L58.2,10.3 L62.3,14.4 L66.4,18.4 L68.7,20.8 L67.5,21.5 L64.5,20.5 L61.3,17.4 L57.2,13.3 Z" fill="#000004"/>
<g clip-path="url(#ethclip)"><rect width="107" height="90" fill="#000003"/><g filter="url(#blur1)"><rect x="44.8" y="11.0" width="1.4" height="50.0" fill="#450067"/><rect x="45.1" y="13.5" width="1.4" height="6.0" fill="#9b1c5f"/><rect x="45.2" y="19.5" width="1.5" height="3.0" fill="#710d6b"/><rect x="44.2" y="24.5" width="2.0" height="4.0" fill="#9b1c5f"/><rect x="44.6" y="26.1" width="1.4" height="1.8" fill="#f29b0d"/><rect x="42.8" y="31.0" width="4.5" height="4.0" fill="#9b1c5f"/><rect x="44.7" y="31.8" width="2.6" height="2.4" fill="#fcffa8"/><rect x="42.8" y="31.6" width="1.6" height="1.6" fill="#f29b0d"/><rect x="45.4" y="35.8" width="1.8" height="3.5" fill="#9b1c5f"/><rect x="41.0" y="40.7" width="4.6" height="3.8" fill="#c33547"/><rect x="41.8" y="41.5" width="2.4" height="2.2" fill="#f3d743"/><rect x="37.4" y="43.2" width="1.2" height="1.5" fill="#710d6b"/><rect x="36.4" y="29.4" width="1.2" height="1.2" fill="#710d6b"/><rect x="41.5" y="27.5" width="1.0" height="1.0" fill="#710d6b"/><rect x="44.3" y="51.0" width="4.4" height="7.0" fill="#9b1c5f"/><rect x="44.3" y="51.5" width="1.8" height="2.2" fill="#fcffa8"/><rect x="47.0" y="55.8" width="2.0" height="2.0" fill="#fcffa8"/><rect x="45.7" y="54.9" width="1.8" height="1.8" fill="#f29b0d"/><rect x="37.7" y="60.4" width="1.2" height="1.2" fill="#710d6b"/><rect x="43.3" y="58.0" width="1.4" height="2.0" fill="#710d6b"/><rect x="46.9" y="48.0" width="1.3" height="2.0" fill="#710d6b"/></g></g>
<use href="#grid"/>
<use href="#lines"/>
<use href="#lakes"/>
</g>
<rect x="0.5" y="0.5" width="105.6" height="88.0" fill="none" stroke="#a0a0a0" stroke-width="0.8"/>
</g><g transform="translate(148.76,146.40)"><g clip-path="url(#boxclip)">
<rect x="0.5" y="0.5" width="105.6" height="88.0" fill="#fff"/>
<use href="#sea" fill="#f0ffff"/>

<g clip-path="url(#ethclip)"><rect width="107" height="90" fill="#fffefe"/><g filter="url(#blur1)"><rect x="46.5" y="12.0" width="1.4" height="24.0" fill="#fcdfe2"/><rect x="46.1" y="18.5" width="1.3" height="1.3" fill="#8f86fa"/><rect x="45.0" y="23.5" width="1.2" height="1.2" fill="#aba4fb"/><rect x="43.3" y="27.2" width="1.4" height="1.6" fill="#f68490"/><rect x="43.2" y="31.6" width="1.6" height="1.6" fill="#f46673"/><rect x="46.0" y="32.8" width="1.4" height="1.4" fill="#3a2bf7"/><rect x="36.2" y="33.4" width="1.2" height="1.2" fill="#c6c2fd"/><rect x="39.0" y="41.0" width="8.0" height="6.0" fill="#fac0c7"/><rect x="40.5" y="42.2" width="4.0" height="3.2" fill="#f52728"/><rect x="41.1" y="42.9" width="2.4" height="2.2" fill="#f81c12"/><rect x="34.4" y="43.4" width="1.5" height="1.2" fill="#c6c2fd"/><rect x="45.5" y="48.9" width="1.5" height="1.5" fill="#f8a2ab"/><rect x="45.0" y="54.6" width="3.0" height="2.4" fill="#f8a2ab"/><rect x="45.7" y="55.5" width="2.0" height="1.5" fill="#f52728"/><rect x="48.2" y="56.6" width="1.5" height="1.4" fill="#3a2bf7"/><rect x="40.0" y="60.0" width="1.2" height="1.2" fill="#c6c2fd"/><rect x="36.7" y="51.2" width="1.2" height="1.2" fill="#c6c2fd"/><rect x="59.7" y="41.3" width="4.0" height="1.0" fill="#fcdfe2"/><rect x="43.2" y="37.0" width="1.5" height="2.0" fill="#fac0c7"/></g></g>
<use href="#grid"/>
<use href="#lines"/>
<use href="#lakes"/>
</g>
<rect x="0.5" y="0.5" width="105.6" height="88.0" fill="none" stroke="#a0a0a0" stroke-width="0.8"/>
</g><g transform="translate(285.46,146.40)"><g clip-path="url(#boxclip)">
<rect x="0.5" y="0.5" width="105.6" height="88.0" fill="#fff"/>
<use href="#sea" fill="#f0ffff"/>

<g clip-path="url(#ethclip)"><rect width="107" height="90" fill="#faf22d"/><g filter="url(#blur1)"><rect x="45.3" y="13.1" width="1.2" height="1.6" fill="#404686"/><rect x="46.1" y="22.4" width="1.2" height="1.2" fill="#75e05c"/><rect x="37.9" y="28.9" width="1.2" height="1.2" fill="#29ac88"/><rect x="36.3" y="31.4" width="1.2" height="1.2" fill="#29ac88"/><rect x="38.6" y="42.8" width="1.4" height="1.2" fill="#29ac88"/><rect x="43.7" y="42.8" width="1.2" height="1.2" fill="#29ac88"/><rect x="41.2" y="46.9" width="1.2" height="1.2" fill="#29ac88"/><rect x="42.8" y="48.6" width="1.2" height="1.2" fill="#404686"/><rect x="39.4" y="61.4" width="1.2" height="1.2" fill="#75e05c"/></g></g>
<use href="#grid"/>
<use href="#lines"/>
<use href="#lakes"/>
</g>
<rect x="0.5" y="0.5" width="105.6" height="88.0" fill="none" stroke="#a0a0a0" stroke-width="0.8"/>
</g><g transform="translate(422.16,146.40)"><g clip-path="url(#boxclip)">
<rect x="0.5" y="0.5" width="105.6" height="88.0" fill="#fff"/>
<use href="#sea" fill="#f0ffff"/>

<g clip-path="url(#ethclip)"><rect width="107" height="90" fill="#fffefe"/><g filter="url(#blur1)"><rect x="45.6" y="12.0" width="1.4" height="24.0" fill="#e2e0fe"/><rect x="44.4" y="21.0" width="1.2" height="10.0" fill="#fcdfe2"/><rect x="45.6" y="18.4" width="1.4" height="1.4" fill="#7166f9"/><rect x="44.6" y="24.1" width="1.2" height="1.2" fill="#8f86fa"/><rect x="43.3" y="27.5" width="1.6" height="2.0" fill="#f46673"/><rect x="43.3" y="31.5" width="1.6" height="1.8" fill="#f46673"/><rect x="45.5" y="32.8" width="1.5" height="1.5" fill="#1e0df6"/><rect x="36.2" y="33.4" width="1.3" height="1.3" fill="#c6c2fd"/><rect x="38.0" y="41.0" width="8.0" height="6.0" fill="#fac0c7"/><rect x="39.4" y="41.8" width="4.2" height="3.6" fill="#f52728"/><rect x="40.0" y="42.3" width="2.6" height="2.4" fill="#f81c12"/><rect x="43.7" y="51.4" width="3.0" height="3.0" fill="#7166f9"/><rect x="44.8" y="52.2" width="1.5" height="1.5" fill="#fffefe"/><rect x="45.2" y="55.0" width="2.2" height="1.5" fill="#f52728"/><rect x="48.3" y="56.6" width="1.6" height="1.4" fill="#1e0df6"/><rect x="39.6" y="62.2" width="1.3" height="1.3" fill="#c6c2fd"/><rect x="43.2" y="37.0" width="1.5" height="2.0" fill="#fac0c7"/><rect x="46.2" y="47.2" width="1.5" height="1.5" fill="#aba4fb"/></g></g>
<use href="#grid"/>
<use href="#lines"/>
<use href="#lakes"/>
</g>
<rect x="0.5" y="0.5" width="105.6" height="88.0" fill="none" stroke="#a0a0a0" stroke-width="0.8"/>
</g><g transform="translate(558.86,146.40)"><g clip-path="url(#boxclip)">
<rect x="0.5" y="0.5" width="105.6" height="88.0" fill="#fff"/>
<use href="#sea" fill="#f0ffff"/>

<g clip-path="url(#ethclip)"><rect width="107" height="90" fill="#faf22d"/><g filter="url(#blur1)"><rect x="45.3" y="12.2" width="1.2" height="1.8" fill="#366b8c"/><rect x="38.7" y="28.9" width="1.2" height="1.2" fill="#29ac88"/><rect x="42.0" y="28.9" width="1.2" height="1.2" fill="#29ac88"/><rect x="45.1" y="29.5" width="1.6" height="1.6" fill="#404686"/><rect x="33.8" y="32.2" width="1.2" height="1.2" fill="#29ac88"/><rect x="38.6" y="42.8" width="1.4" height="1.2" fill="#29ac88"/><rect x="43.7" y="42.8" width="1.2" height="1.2" fill="#29ac88"/><rect x="42.7" y="48.5" width="1.4" height="1.4" fill="#404686"/><rect x="48.4" y="55.1" width="1.6" height="1.2" fill="#2e8b8d"/></g></g>
<use href="#grid"/>
<use href="#lines"/>
<use href="#lakes"/>
</g>
<rect x="0.5" y="0.5" width="105.6" height="88.0" fill="none" stroke="#a0a0a0" stroke-width="0.8"/>
</g><g transform="translate(12.06,282.80)"><g clip-path="url(#boxclip)">
<rect x="0.5" y="0.5" width="105.6" height="88.0" fill="#fff"/>
<use href="#sea" fill="#f0ffff"/>

<g clip-path="url(#ethclip)"><g filter="url(#blurs)"><path fill="#f3d743" d="M0 0h33.9v10.9h-33.9zM51 0h3.9v10.9h-3.9zM63 0h12.9v10.9h-12.9zM0 10h33.9v3.9h-33.9zM51 10h3.9v3.9h-3.9zM60 10h12.9v3.9h-12.9zM0 13h33.9v3.9h-33.9zM51 13h18.9v3.9h-18.9zM0 16h30.9v3.9h-30.9zM54 16h12.9v3.9h-12.9zM0 19h30.9v3.9h-30.9zM54 19h6.9v3.9h-6.9zM0 22h27.9v3.9h-27.9zM0 25h27.9v3.9h-27.9zM0 28h24.9v3.9h-24.9zM0 31h21.9v3.9h-21.9zM9 34h12.9v3.9h-12.9zM12 46h3.9v3.9h-3.9zM15 49h3.9v3.9h-3.9zM15 52h3.9v3.9h-3.9zM63 52h3.9v3.9h-3.9zM87 52h12.9v3.9h-12.9zM15 55h3.9v3.9h-3.9zM60 55h12.9v3.9h-12.9zM81 55h29.9v3.9h-29.9zM60 58h6.9v3.9h-6.9zM72 58h3.9v3.9h-3.9zM78 58h32.9v3.9h-32.9zM18 61h6.9v3.9h-6.9zM63 61h3.9v3.9h-3.9zM72 61h38.9v3.9h-38.9zM27 64h3.9v3.9h-3.9zM57 64h53.9v3.9h-53.9zM27 67h6.9v3.9h-6.9zM57 67h3.9v3.9h-3.9zM63 67h47.9v3.9h-47.9zM24 70h12.9v3.9h-12.9zM57 70h3.9v3.9h-3.9zM63 70h47.9v3.9h-47.9zM21 73h15.9v3.9h-15.9zM60 73h50.9v3.9h-50.9zM18 76h15.9v13.9h-15.9zM51 76h59.9v13.9h-59.9z"/><path fill="#f29b0d" d="M33 0h9.9v10.9h-9.9zM75 0h21.9v10.9h-21.9zM33 10h3.9v3.9h-3.9zM72 10h21.9v3.9h-21.9zM33 13h3.9v3.9h-3.9zM69 13h21.9v3.9h-21.9zM30 16h3.9v3.9h-3.9zM51 16h3.9v3.9h-3.9zM66 16h21.9v3.9h-21.9zM30 19h3.9v3.9h-3.9zM51 19h3.9v3.9h-3.9zM60 19h24.9v3.9h-24.9zM27 22h3.9v3.9h-3.9zM51 22h30.9v3.9h-30.9zM99 22h11.9v3.9h-11.9zM51 25h27.9v3.9h-27.9zM96 25h14.9v3.9h-14.9zM24 28h3.9v3.9h-3.9zM51 28h12.9v3.9h-12.9zM69 28h6.9v3.9h-6.9zM93 28h17.9v3.9h-17.9zM21 31h6.9v3.9h-6.9zM51 31h9.9v3.9h-9.9zM90 31h20.9v3.9h-20.9zM0 34h9.9v3.9h-9.9zM24 34h3.9v3.9h-3.9zM87 34h23.9v3.9h-23.9zM0 37h27.9v3.9h-27.9zM84 37h26.9v3.9h-26.9zM0 40h18.9v3.9h-18.9zM81 40h29.9v3.9h-29.9zM9 43h9.9v3.9h-9.9zM78 43h32.9v3.9h-32.9zM15 46h3.9v3.9h-3.9zM63 46h9.9v3.9h-9.9zM78 46h32.9v3.9h-32.9zM57 49h21.9v3.9h-21.9zM81 49h29.9v3.9h-29.9zM57 52h6.9v3.9h-6.9zM66 52h9.9v3.9h-9.9zM78 52h9.9v3.9h-9.9zM99 52h11.9v3.9h-11.9zM30 55h3.9v3.9h-3.9zM57 55h3.9v3.9h-3.9zM72 55h9.9v3.9h-9.9zM15 58h9.9v3.9h-9.9zM54 58h6.9v3.9h-6.9zM75 58h3.9v3.9h-3.9zM12 61h6.9v3.9h-6.9zM27 61h3.9v3.9h-3.9zM51 61h12.9v3.9h-12.9zM9 64h6.9v3.9h-6.9zM30 64h9.9v3.9h-9.9zM51 64h6.9v3.9h-6.9zM0 67h12.9v3.9h-12.9zM33 67h9.9v3.9h-9.9zM48 67h9.9v3.9h-9.9zM0 70h9.9v3.9h-9.9zM36 70h21.9v3.9h-21.9zM36 73h21.9v3.9h-21.9zM33 76h18.9v13.9h-18.9z"/><path fill="#c33547" d="M42 0h3.9v10.9h-3.9zM42 10h3.9v3.9h-3.9zM42 13h3.9v3.9h-3.9zM39 16h6.9v3.9h-6.9zM36 19h3.9v3.9h-3.9zM42 19h3.9v3.9h-3.9zM33 22h9.9v3.9h-9.9zM30 25h6.9v3.9h-6.9zM39 25h3.9v3.9h-3.9zM36 28h6.9v3.9h-6.9zM27 31h3.9v3.9h-3.9zM39 31h3.9v3.9h-3.9zM66 31h6.9v3.9h-6.9zM30 34h3.9v3.9h-3.9zM39 34h3.9v3.9h-3.9zM63 34h6.9v3.9h-6.9zM30 37h6.9v3.9h-6.9zM39 37h3.9v3.9h-3.9zM54 37h12.9v3.9h-12.9zM27 40h3.9v3.9h-3.9zM66 40h6.9v3.9h-6.9zM27 43h6.9v3.9h-6.9zM60 43h3.9v3.9h-3.9zM33 46h3.9v3.9h-3.9zM54 46h3.9v3.9h-3.9zM36 49h3.9v3.9h-3.9zM54 49h3.9v3.9h-3.9zM18 52h3.9v3.9h-3.9zM24 55h3.9v3.9h-3.9zM30 58h3.9v3.9h-3.9zM36 58h3.9v3.9h-3.9zM39 61h3.9v3.9h-3.9zM48 61h3.9v3.9h-3.9z"/><path fill="#450067" d="M45 0h6.9v10.9h-6.9zM45 10h6.9v3.9h-6.9zM45 13h3.9v3.9h-3.9zM45 22h3.9v3.9h-3.9zM45 25h3.9v3.9h-3.9zM45 31h3.9v3.9h-3.9zM48 37h3.9v3.9h-3.9zM48 40h3.9v3.9h-3.9zM42 49h3.9v3.9h-3.9zM42 52h6.9v3.9h-6.9zM42 55h9.9v3.9h-9.9z"/><path fill="#fcffa8" d="M54 0h9.9v10.9h-9.9zM54 10h6.9v3.9h-6.9zM0 43h9.9v3.9h-9.9zM0 46h12.9v3.9h-12.9zM0 49h15.9v3.9h-15.9zM0 52h15.9v3.9h-15.9zM0 55h15.9v3.9h-15.9zM0 58h15.9v3.9h-15.9zM24 58h3.9v3.9h-3.9zM66 58h6.9v3.9h-6.9zM0 61h12.9v3.9h-12.9zM24 61h3.9v3.9h-3.9zM66 61h6.9v3.9h-6.9zM0 64h9.9v3.9h-9.9zM15 64h12.9v3.9h-12.9zM12 67h15.9v3.9h-15.9zM60 67h3.9v3.9h-3.9zM9 70h15.9v3.9h-15.9zM60 70h3.9v3.9h-3.9zM0 73h21.9v3.9h-21.9zM57 73h3.9v3.9h-3.9zM0 76h18.9v13.9h-18.9z"/><path fill="#9b1c5f" d="M96 0h14.9v10.9h-14.9zM93 10h17.9v3.9h-17.9zM90 13h9.9v3.9h-9.9zM87 16h9.9v3.9h-9.9zM84 19h9.9v3.9h-9.9zM42 22h3.9v3.9h-3.9zM81 22h9.9v3.9h-9.9zM42 25h3.9v3.9h-3.9zM78 25h9.9v3.9h-9.9zM30 28h6.9v3.9h-6.9zM75 28h9.9v3.9h-9.9zM30 31h9.9v3.9h-9.9zM72 31h9.9v3.9h-9.9zM33 34h3.9v3.9h-3.9zM42 34h3.9v3.9h-3.9zM69 34h9.9v3.9h-9.9zM36 37h3.9v3.9h-3.9zM42 37h3.9v3.9h-3.9zM66 37h9.9v3.9h-9.9zM30 40h15.9v3.9h-15.9zM57 40h9.9v3.9h-9.9zM33 43h3.9v3.9h-3.9zM39 43h3.9v3.9h-3.9zM54 43h6.9v3.9h-6.9zM18 46h9.9v3.9h-9.9zM36 46h3.9v3.9h-3.9zM18 49h3.9v3.9h-3.9zM24 49h3.9v3.9h-3.9zM48 49h3.9v3.9h-3.9zM21 52h6.9v3.9h-6.9zM36 52h3.9v3.9h-3.9zM54 52h3.9v3.9h-3.9zM36 55h3.9v3.9h-3.9zM48 58h3.9v3.9h-3.9zM45 61h3.9v3.9h-3.9z"/><path fill="#e16029" d="M36 10h6.9v3.9h-6.9zM36 13h6.9v3.9h-6.9zM99 13h11.9v3.9h-11.9zM33 16h3.9v3.9h-3.9zM96 16h14.9v3.9h-14.9zM33 19h3.9v3.9h-3.9zM39 19h3.9v3.9h-3.9zM93 19h17.9v3.9h-17.9zM30 22h3.9v3.9h-3.9zM90 22h9.9v3.9h-9.9zM27 25h3.9v3.9h-3.9zM87 25h9.9v3.9h-9.9zM27 28h3.9v3.9h-3.9zM63 28h6.9v3.9h-6.9zM84 28h9.9v3.9h-9.9zM60 31h6.9v3.9h-6.9zM81 31h9.9v3.9h-9.9zM21 34h3.9v3.9h-3.9zM27 34h3.9v3.9h-3.9zM51 34h12.9v3.9h-12.9zM78 34h9.9v3.9h-9.9zM27 37h3.9v3.9h-3.9zM51 37h3.9v3.9h-3.9zM75 37h9.9v3.9h-9.9zM18 40h9.9v3.9h-9.9zM51 40h3.9v3.9h-3.9zM72 40h9.9v3.9h-9.9zM18 43h9.9v3.9h-9.9zM51 43h3.9v3.9h-3.9zM63 43h15.9v3.9h-15.9zM27 46h6.9v3.9h-6.9zM51 46h3.9v3.9h-3.9zM57 46h6.9v3.9h-6.9zM72 46h6.9v3.9h-6.9zM27 49h9.9v3.9h-9.9zM51 49h3.9v3.9h-3.9zM78 49h3.9v3.9h-3.9zM27 52h9.9v3.9h-9.9zM51 52h3.9v3.9h-3.9zM75 52h3.9v3.9h-3.9zM18 55h6.9v3.9h-6.9zM27 55h3.9v3.9h-3.9zM33 55h3.9v3.9h-3.9zM51 55h6.9v3.9h-6.9zM27 58h3.9v3.9h-3.9zM33 58h3.9v3.9h-3.9zM51 58h3.9v3.9h-3.9zM30 61h9.9v3.9h-9.9zM39 64h12.9v3.9h-12.9zM42 67h6.9v3.9h-6.9z"/><path fill="#710d6b" d="M48 13h3.9v3.9h-3.9zM36 16h3.9v3.9h-3.9zM45 16h6.9v3.9h-6.9zM45 19h6.9v3.9h-6.9zM48 22h3.9v3.9h-3.9zM36 25h3.9v3.9h-3.9zM48 25h3.9v3.9h-3.9zM42 28h9.9v3.9h-9.9zM42 31h3.9v3.9h-3.9zM48 31h3.9v3.9h-3.9zM36 34h3.9v3.9h-3.9zM45 34h6.9v3.9h-6.9zM45 37h3.9v3.9h-3.9zM45 40h3.9v3.9h-3.9zM54 40h3.9v3.9h-3.9zM36 43h3.9v3.9h-3.9zM42 43h9.9v3.9h-9.9zM39 46h12.9v3.9h-12.9zM21 49h3.9v3.9h-3.9zM39 49h3.9v3.9h-3.9zM45 49h3.9v3.9h-3.9zM39 52h3.9v3.9h-3.9zM39 55h3.9v3.9h-3.9zM39 58h9.9v3.9h-9.9zM42 61h3.9v3.9h-3.9z"/><path fill="#1a073f" d="M48 52h3.9v3.9h-3.9z"/></g></g>
<use href="#grid"/>
<use href="#lines"/>
<use href="#lakes"/>
</g>
<rect x="0.5" y="0.5" width="105.6" height="88.0" fill="none" stroke="#a0a0a0" stroke-width="0.8"/>
</g><g transform="translate(148.76,282.80)"><g clip-path="url(#boxclip)">
<rect x="0.5" y="0.5" width="105.6" height="88.0" fill="#fff"/>
<use href="#sea" fill="#f0ffff"/>

<g clip-path="url(#ethclip)"><g filter="url(#blur)"><path fill="#f81c12" d="M0 0h30.9v13.9h-30.9zM0 13h24.9v6.9h-24.9zM0 19h18.9v6.9h-18.9z"/><path fill="#f46673" d="M30 0h6.9v13.9h-6.9zM48 0h6.9v13.9h-6.9zM48 13h6.9v6.9h-6.9zM96 13h14.9v6.9h-14.9zM24 19h6.9v6.9h-6.9zM90 19h20.9v6.9h-20.9zM54 25h6.9v6.9h-6.9zM84 25h12.9v6.9h-12.9zM12 31h6.9v6.9h-6.9zM60 31h6.9v6.9h-6.9zM78 31h12.9v6.9h-12.9zM0 37h12.9v6.9h-12.9zM72 37h12.9v6.9h-12.9z"/><path fill="#f8a2ab" d="M36 0h6.9v13.9h-6.9zM30 19h6.9v6.9h-6.9zM30 25h6.9v6.9h-6.9zM96 25h14.9v6.9h-14.9zM24 31h6.9v6.9h-6.9zM48 31h6.9v6.9h-6.9zM90 31h20.9v6.9h-20.9zM18 37h12.9v6.9h-12.9zM48 37h6.9v6.9h-6.9zM84 37h26.9v6.9h-26.9zM0 43h12.9v6.9h-12.9zM54 43h56.9v6.9h-56.9zM54 49h56.9v6.9h-56.9zM54 55h56.9v6.9h-56.9zM60 61h6.9v6.9h-6.9zM84 61h26.9v6.9h-26.9zM60 67h18.9v6.9h-18.9zM90 67h20.9v6.9h-20.9zM66 73h18.9v16.9h-18.9zM96 73h14.9v16.9h-14.9z"/><path fill="#fcdfe2" d="M42 0h6.9v13.9h-6.9zM42 13h6.9v6.9h-6.9zM36 25h6.9v6.9h-6.9zM36 31h6.9v6.9h-6.9zM36 37h6.9v6.9h-6.9zM30 43h12.9v6.9h-12.9zM18 49h6.9v6.9h-6.9zM30 49h6.9v6.9h-6.9zM0 55h18.9v6.9h-18.9zM30 55h6.9v6.9h-6.9zM48 55h6.9v6.9h-6.9zM0 61h12.9v6.9h-12.9zM24 61h6.9v6.9h-6.9zM48 61h6.9v6.9h-6.9zM48 67h6.9v6.9h-6.9zM54 73h12.9v16.9h-12.9z"/><path fill="#f34d59" d="M54 0h18.9v13.9h-18.9zM54 13h6.9v6.9h-6.9zM54 19h18.9v6.9h-18.9zM60 25h24.9v6.9h-24.9zM0 31h12.9v6.9h-12.9zM66 31h12.9v6.9h-12.9z"/><path fill="#f33740" d="M72 0h38.9v13.9h-38.9zM24 13h6.9v6.9h-6.9zM60 13h36.9v6.9h-36.9zM72 19h18.9v6.9h-18.9zM18 25h6.9v6.9h-6.9z"/><path fill="#f68490" d="M30 13h6.9v6.9h-6.9zM48 19h6.9v6.9h-6.9zM24 25h6.9v6.9h-6.9zM48 25h6.9v6.9h-6.9zM18 31h6.9v6.9h-6.9zM54 31h6.9v6.9h-6.9zM12 37h6.9v6.9h-6.9zM54 37h18.9v6.9h-18.9zM66 61h18.9v6.9h-18.9zM78 67h12.9v6.9h-12.9zM84 73h12.9v16.9h-12.9z"/><path fill="#fac0c7" d="M36 13h6.9v6.9h-6.9zM36 19h6.9v6.9h-6.9zM30 31h6.9v6.9h-6.9zM30 37h6.9v6.9h-6.9zM12 43h18.9v6.9h-18.9zM48 43h6.9v6.9h-6.9zM24 49h6.9v6.9h-6.9zM48 49h6.9v6.9h-6.9zM24 55h6.9v6.9h-6.9zM54 61h6.9v6.9h-6.9zM54 67h6.9v6.9h-6.9z"/><path fill="#f52728" d="M18 19h6.9v6.9h-6.9zM0 25h18.9v6.9h-18.9z"/><path fill="#e2e0fe" d="M42 19h6.9v6.9h-6.9zM42 25h6.9v6.9h-6.9zM42 31h6.9v6.9h-6.9zM42 43h6.9v6.9h-6.9zM0 49h12.9v6.9h-12.9zM36 49h6.9v6.9h-6.9zM36 55h12.9v6.9h-12.9zM30 61h6.9v6.9h-6.9zM42 61h6.9v6.9h-6.9zM18 67h12.9v6.9h-12.9zM42 67h6.9v6.9h-6.9zM12 73h12.9v16.9h-12.9zM48 73h6.9v16.9h-6.9z"/><path fill="#c6c2fd" d="M42 37h6.9v6.9h-6.9zM42 49h6.9v6.9h-6.9zM36 61h6.9v6.9h-6.9zM30 67h12.9v6.9h-12.9zM24 73h12.9v16.9h-12.9zM42 73h6.9v16.9h-6.9z"/><path fill="#fffefe" d="M12 49h6.9v6.9h-6.9zM18 55h6.9v6.9h-6.9zM12 61h12.9v6.9h-12.9zM0 67h18.9v6.9h-18.9zM0 73h12.9v16.9h-12.9z"/><path fill="#aba4fb" d="M36 73h6.9v16.9h-6.9z"/></g></g>
<use href="#grid"/>
<use href="#lines"/>
<use href="#lakes"/>
</g>
<rect x="0.5" y="0.5" width="105.6" height="88.0" fill="none" stroke="#a0a0a0" stroke-width="0.8"/>
</g><g transform="translate(285.46,282.80)"><g clip-path="url(#boxclip)">
<rect x="0.5" y="0.5" width="105.6" height="88.0" fill="#fff"/>
<use href="#sea" fill="#f0ffff"/>

<g clip-path="url(#ethclip)"><g filter="url(#blurf)"><path fill="#404686" d="M0 0h15.9v10.9h-15.9zM24 0h12.9v10.9h-12.9zM0 10h18.9v3.9h-18.9zM33 10h3.9v3.9h-3.9zM0 13h21.9v3.9h-21.9zM0 16h24.9v3.9h-24.9zM30 16h3.9v3.9h-3.9zM99 16h11.9v3.9h-11.9zM9 19h18.9v3.9h-18.9zM96 19h14.9v3.9h-14.9zM12 22h9.9v3.9h-9.9zM93 22h17.9v3.9h-17.9zM15 25h9.9v3.9h-9.9zM90 25h9.9v3.9h-9.9zM87 28h9.9v3.9h-9.9zM84 31h9.9v3.9h-9.9zM81 34h9.9v3.9h-9.9zM78 37h9.9v3.9h-9.9zM75 40h9.9v3.9h-9.9zM75 43h6.9v3.9h-6.9zM63 46h3.9v3.9h-3.9zM60 49h3.9v3.9h-3.9zM72 49h3.9v3.9h-3.9zM63 55h3.9v3.9h-3.9zM75 55h3.9v3.9h-3.9zM63 67h3.9v3.9h-3.9z"/><path fill="#461f75" d="M15 0h9.9v10.9h-9.9zM18 10h15.9v3.9h-15.9zM21 13h12.9v3.9h-12.9zM24 16h6.9v3.9h-6.9zM27 19h3.9v3.9h-3.9zM21 22h6.9v3.9h-6.9zM99 25h11.9v3.9h-11.9zM96 28h14.9v3.9h-14.9zM93 31h17.9v3.9h-17.9zM90 34h20.9v3.9h-20.9zM87 37h23.9v3.9h-23.9zM84 40h26.9v3.9h-26.9zM81 43h29.9v3.9h-29.9zM75 46h15.9v3.9h-15.9zM93 46h17.9v3.9h-17.9zM66 49h6.9v3.9h-6.9zM75 49h12.9v3.9h-12.9zM93 49h17.9v3.9h-17.9zM60 52h3.9v3.9h-3.9zM72 52h3.9v3.9h-3.9zM87 52h23.9v3.9h-23.9zM60 55h3.9v3.9h-3.9zM78 55h3.9v3.9h-3.9zM96 55h14.9v3.9h-14.9zM60 58h3.9v3.9h-3.9zM99 58h11.9v3.9h-11.9zM63 61h3.9v3.9h-3.9zM63 64h3.9v3.9h-3.9zM63 70h3.9v3.9h-3.9z"/><path fill="#75e05c" d="M36 0h6.9v10.9h-6.9zM39 10h3.9v3.9h-3.9zM42 16h3.9v3.9h-3.9zM39 19h3.9v3.9h-3.9zM57 22h3.9v3.9h-3.9zM24 34h3.9v3.9h-3.9zM30 34h3.9v3.9h-3.9zM21 37h3.9v3.9h-3.9zM24 40h3.9v3.9h-3.9zM66 46h3.9v3.9h-3.9zM72 46h3.9v3.9h-3.9z"/><path fill="#faf22d" d="M42 0h12.9v10.9h-12.9zM93 0h17.9v10.9h-17.9zM42 10h12.9v3.9h-12.9zM90 10h20.9v3.9h-20.9zM42 13h12.9v3.9h-12.9zM87 13h23.9v3.9h-23.9zM39 16h3.9v3.9h-3.9zM45 16h9.9v3.9h-9.9zM84 16h15.9v3.9h-15.9zM33 19h6.9v3.9h-6.9zM42 19h15.9v3.9h-15.9zM81 19h15.9v3.9h-15.9zM33 22h24.9v3.9h-24.9zM78 22h15.9v3.9h-15.9zM30 25h24.9v3.9h-24.9zM57 25h6.9v3.9h-6.9zM75 25h15.9v3.9h-15.9zM30 28h57.9v3.9h-57.9zM30 31h54.9v3.9h-54.9zM0 34h9.9v3.9h-9.9zM27 34h3.9v3.9h-3.9zM33 34h48.9v3.9h-48.9zM0 37h21.9v3.9h-21.9zM24 37h54.9v3.9h-54.9zM0 40h24.9v3.9h-24.9zM30 40h45.9v3.9h-45.9zM0 43h75.9v3.9h-75.9zM0 46h60.9v3.9h-60.9zM69 46h3.9v3.9h-3.9zM0 49h60.9v3.9h-60.9zM0 52h60.9v3.9h-60.9zM0 55h57.9v3.9h-57.9zM0 58h57.9v3.9h-57.9zM0 61h63.9v3.9h-63.9zM0 64h63.9v3.9h-63.9zM0 67h63.9v3.9h-63.9zM0 70h63.9v3.9h-63.9zM0 73h66.9v3.9h-66.9zM0 76h69.9v13.9h-69.9z"/><path fill="#40c97a" d="M54 0h9.9v10.9h-9.9zM54 10h6.9v3.9h-6.9zM39 13h3.9v3.9h-3.9zM30 22h3.9v3.9h-3.9zM24 28h3.9v3.9h-3.9zM21 34h3.9v3.9h-3.9zM57 55h3.9v3.9h-3.9z"/><path fill="#2e8b8d" d="M63 0h12.9v10.9h-12.9zM60 10h12.9v3.9h-12.9zM54 13h15.9v3.9h-15.9zM54 16h3.9v3.9h-3.9zM60 16h6.9v3.9h-6.9zM60 19h3.9v3.9h-3.9zM60 22h6.9v3.9h-6.9zM63 25h6.9v3.9h-6.9zM27 28h3.9v3.9h-3.9zM21 31h6.9v3.9h-6.9zM75 52h3.9v3.9h-3.9zM57 58h3.9v3.9h-3.9z"/><path fill="#366b8c" d="M75 0h18.9v10.9h-18.9zM36 10h3.9v3.9h-3.9zM72 10h18.9v3.9h-18.9zM33 13h6.9v3.9h-6.9zM69 13h18.9v3.9h-18.9zM57 16h3.9v3.9h-3.9zM66 16h18.9v3.9h-18.9zM0 19h9.9v3.9h-9.9zM30 19h3.9v3.9h-3.9zM63 19h18.9v3.9h-18.9zM0 22h12.9v3.9h-12.9zM27 22h3.9v3.9h-3.9zM66 22h12.9v3.9h-12.9zM9 25h6.9v3.9h-6.9zM24 25h3.9v3.9h-3.9zM69 25h6.9v3.9h-6.9zM12 28h12.9v3.9h-12.9zM15 31h6.9v3.9h-6.9zM60 46h3.9v3.9h-3.9zM90 46h3.9v3.9h-3.9zM87 49h6.9v3.9h-6.9zM78 52h3.9v3.9h-3.9z"/><path fill="#29ac88" d="M33 16h3.9v3.9h-3.9zM57 19h3.9v3.9h-3.9zM0 25h9.9v3.9h-9.9zM27 25h3.9v3.9h-3.9zM0 28h12.9v3.9h-12.9zM0 31h15.9v3.9h-15.9zM27 31h3.9v3.9h-3.9zM9 34h12.9v3.9h-12.9z"/><path fill="#b7ee32" d="M36 16h3.9v3.9h-3.9zM54 25h3.9v3.9h-3.9zM27 40h3.9v3.9h-3.9z"/><path fill="#3f0051" d="M63 49h3.9v3.9h-3.9zM63 52h9.9v3.9h-9.9zM81 52h6.9v3.9h-6.9zM66 55h9.9v3.9h-9.9zM81 55h15.9v3.9h-15.9zM63 58h36.9v3.9h-36.9zM66 61h44.9v3.9h-44.9zM66 64h44.9v3.9h-44.9zM66 67h44.9v3.9h-44.9zM66 70h44.9v3.9h-44.9zM66 73h44.9v3.9h-44.9zM69 76h41.9v13.9h-41.9z"/></g></g>
<use href="#grid"/>
<use href="#lines"/>
<use href="#lakes"/>
</g>
<rect x="0.5" y="0.5" width="105.6" height="88.0" fill="none" stroke="#a0a0a0" stroke-width="0.8"/>
</g><g transform="translate(422.16,282.80)"><g clip-path="url(#boxclip)">
<rect x="0.5" y="0.5" width="105.6" height="88.0" fill="#fff"/>
<use href="#sea" fill="#f0ffff"/>

<g clip-path="url(#ethclip)"><g filter="url(#blur)"><path fill="#f81c12" d="M0 0h30.9v13.9h-30.9zM48 0h62.9v13.9h-62.9zM0 13h30.9v6.9h-30.9zM48 13h62.9v6.9h-62.9zM0 19h24.9v6.9h-24.9zM48 19h62.9v6.9h-62.9zM0 25h24.9v6.9h-24.9zM48 25h48.9v6.9h-48.9zM0 31h18.9v6.9h-18.9zM48 31h42.9v6.9h-42.9zM54 37h30.9v6.9h-30.9z"/><path fill="#f52728" d="M30 0h6.9v13.9h-6.9zM24 19h6.9v6.9h-6.9zM18 31h6.9v6.9h-6.9zM0 37h12.9v6.9h-12.9zM48 37h6.9v6.9h-6.9z"/><path fill="#f34d59" d="M36 0h6.9v13.9h-6.9zM36 13h6.9v6.9h-6.9zM36 19h6.9v6.9h-6.9zM96 25h14.9v6.9h-14.9zM30 31h6.9v6.9h-6.9zM90 31h20.9v6.9h-20.9zM24 37h12.9v6.9h-12.9zM84 37h26.9v6.9h-26.9zM78 43h32.9v6.9h-32.9zM84 49h26.9v6.9h-26.9zM96 55h14.9v6.9h-14.9z"/><path fill="#f46673" d="M42 0h6.9v13.9h-6.9zM42 13h6.9v6.9h-6.9zM42 19h6.9v6.9h-6.9zM36 25h6.9v6.9h-6.9zM36 31h6.9v6.9h-6.9zM36 37h6.9v6.9h-6.9zM48 43h6.9v6.9h-6.9zM66 43h12.9v6.9h-12.9zM72 49h12.9v6.9h-12.9zM72 55h24.9v6.9h-24.9zM84 61h26.9v6.9h-26.9zM90 67h20.9v6.9h-20.9zM96 73h14.9v16.9h-14.9z"/><path fill="#f33740" d="M30 13h6.9v6.9h-6.9zM30 19h6.9v6.9h-6.9zM24 25h12.9v6.9h-12.9zM24 31h6.9v6.9h-6.9zM12 37h12.9v6.9h-12.9z"/><path fill="#f68490" d="M42 25h6.9v6.9h-6.9zM42 31h6.9v6.9h-6.9zM42 37h6.9v6.9h-6.9zM42 43h6.9v6.9h-6.9zM54 43h12.9v6.9h-12.9zM66 49h6.9v6.9h-6.9zM66 55h6.9v6.9h-6.9zM72 61h12.9v6.9h-12.9zM78 67h12.9v6.9h-12.9zM84 73h12.9v16.9h-12.9z"/><path fill="#f8a2ab" d="M0 43h42.9v6.9h-42.9zM18 49h18.9v6.9h-18.9zM60 49h6.9v6.9h-6.9zM60 55h6.9v6.9h-6.9zM66 61h6.9v6.9h-6.9z"/><path fill="#e2e0fe" d="M0 49h12.9v6.9h-12.9zM0 55h18.9v6.9h-18.9zM0 61h12.9v6.9h-12.9zM54 61h6.9v6.9h-6.9zM18 67h12.9v6.9h-12.9zM12 73h12.9v16.9h-12.9zM54 73h12.9v16.9h-12.9z"/><path fill="#fcdfe2" d="M12 49h6.9v6.9h-6.9zM42 49h12.9v6.9h-12.9zM18 55h6.9v6.9h-6.9zM36 55h6.9v6.9h-6.9zM54 55h6.9v6.9h-6.9zM24 61h12.9v6.9h-12.9zM60 67h6.9v6.9h-6.9z"/><path fill="#fac0c7" d="M36 49h6.9v6.9h-6.9zM54 49h6.9v6.9h-6.9zM24 55h12.9v6.9h-12.9zM60 61h6.9v6.9h-6.9zM66 67h12.9v6.9h-12.9zM66 73h18.9v16.9h-18.9z"/><path fill="#c6c2fd" d="M42 55h12.9v6.9h-12.9zM36 61h6.9v6.9h-6.9zM48 61h6.9v6.9h-6.9zM48 67h12.9v6.9h-12.9z"/><path fill="#fffefe" d="M12 61h12.9v6.9h-12.9zM0 67h18.9v6.9h-18.9zM0 73h12.9v16.9h-12.9z"/><path fill="#aba4fb" d="M42 61h6.9v6.9h-6.9zM30 67h6.9v6.9h-6.9zM48 73h6.9v16.9h-6.9z"/><path fill="#8f86fa" d="M36 67h12.9v6.9h-12.9zM24 73h12.9v16.9h-12.9z"/><path fill="#5549f8" d="M36 73h6.9v16.9h-6.9z"/><path fill="#7166f9" d="M42 73h6.9v16.9h-6.9z"/></g></g>
<use href="#grid"/>
<use href="#lines"/>
<use href="#lakes"/>
</g>
<rect x="0.5" y="0.5" width="105.6" height="88.0" fill="none" stroke="#a0a0a0" stroke-width="0.8"/>
</g><g transform="translate(558.86,282.80)"><g clip-path="url(#boxclip)">
<rect x="0.5" y="0.5" width="105.6" height="88.0" fill="#fff"/>
<use href="#sea" fill="#f0ffff"/>

<g clip-path="url(#ethclip)"><g filter="url(#blurf)"><path fill="#3f0051" d="M0 0h42.9v10.9h-42.9zM54 0h56.9v10.9h-56.9zM0 10h42.9v3.9h-42.9zM54 10h45.9v3.9h-45.9zM0 13h33.9v3.9h-33.9zM36 13h6.9v3.9h-6.9zM54 13h42.9v3.9h-42.9zM0 16h33.9v3.9h-33.9zM54 16h39.9v3.9h-39.9zM0 19h30.9v3.9h-30.9zM54 19h36.9v3.9h-36.9zM99 19h11.9v3.9h-11.9zM0 22h27.9v3.9h-27.9zM30 22h3.9v3.9h-3.9zM57 22h30.9v3.9h-30.9zM96 22h14.9v3.9h-14.9zM0 25h24.9v3.9h-24.9zM27 25h3.9v3.9h-3.9zM54 25h30.9v3.9h-30.9zM93 25h17.9v3.9h-17.9zM0 28h24.9v3.9h-24.9zM54 28h27.9v3.9h-27.9zM90 28h20.9v3.9h-20.9zM9 31h12.9v3.9h-12.9zM54 31h24.9v3.9h-24.9zM87 31h23.9v3.9h-23.9zM54 34h21.9v3.9h-21.9zM84 34h26.9v3.9h-26.9zM60 37h12.9v3.9h-12.9zM81 37h29.9v3.9h-29.9zM78 40h32.9v3.9h-32.9zM75 43h35.9v3.9h-35.9zM66 46h44.9v3.9h-44.9zM63 49h47.9v3.9h-47.9zM66 52h6.9v3.9h-6.9zM78 52h32.9v3.9h-32.9zM75 55h35.9v3.9h-35.9zM75 58h35.9v3.9h-35.9zM78 61h32.9v3.9h-32.9zM78 64h32.9v3.9h-32.9zM78 67h32.9v3.9h-32.9zM78 70h32.9v3.9h-32.9zM42 73h6.9v3.9h-6.9zM78 73h32.9v3.9h-32.9zM36 76h18.9v13.9h-18.9zM81 76h29.9v13.9h-29.9z"/><path fill="#366b8c" d="M42 0h3.9v10.9h-3.9zM42 10h3.9v3.9h-3.9zM42 16h3.9v3.9h-3.9zM48 16h3.9v3.9h-3.9zM33 19h3.9v3.9h-3.9zM33 22h3.9v3.9h-3.9zM39 22h3.9v3.9h-3.9zM48 22h3.9v3.9h-3.9zM48 28h3.9v3.9h-3.9zM39 31h3.9v3.9h-3.9zM18 34h3.9v3.9h-3.9zM30 34h3.9v3.9h-3.9zM27 40h3.9v3.9h-3.9zM60 40h3.9v3.9h-3.9zM63 43h3.9v3.9h-3.9zM60 46h3.9v3.9h-3.9zM60 49h3.9v3.9h-3.9zM69 55h3.9v3.9h-3.9zM72 58h3.9v3.9h-3.9zM72 61h3.9v3.9h-3.9zM72 64h3.9v3.9h-3.9zM45 67h3.9v3.9h-3.9zM42 70h6.9v3.9h-6.9zM54 70h3.9v3.9h-3.9z"/><path fill="#75e05c" d="M45 0h3.9v10.9h-3.9zM45 10h3.9v3.9h-3.9zM36 16h3.9v3.9h-3.9zM42 19h3.9v3.9h-3.9zM0 31h9.9v3.9h-9.9zM0 34h12.9v3.9h-12.9zM33 34h3.9v3.9h-3.9zM0 37h15.9v3.9h-15.9zM30 37h3.9v3.9h-3.9zM24 55h3.9v3.9h-3.9zM27 58h3.9v3.9h-3.9zM69 64h3.9v3.9h-3.9zM36 73h3.9v3.9h-3.9z"/><path fill="#404686" d="M48 0h6.9v10.9h-6.9zM48 10h6.9v3.9h-6.9zM42 13h3.9v3.9h-3.9zM48 13h3.9v3.9h-3.9zM30 25h3.9v3.9h-3.9zM48 25h3.9v3.9h-3.9zM27 28h3.9v3.9h-3.9zM39 28h3.9v3.9h-3.9zM24 31h3.9v3.9h-3.9zM36 31h3.9v3.9h-3.9zM51 31h3.9v3.9h-3.9zM27 34h3.9v3.9h-3.9zM51 34h3.9v3.9h-3.9zM54 37h3.9v3.9h-3.9zM63 40h6.9v3.9h-6.9zM66 43h3.9v3.9h-3.9zM72 55h3.9v3.9h-3.9zM48 67h6.9v3.9h-6.9zM69 67h3.9v3.9h-3.9zM51 70h3.9v3.9h-3.9zM66 70h3.9v3.9h-3.9zM39 73h3.9v3.9h-3.9zM54 73h3.9v3.9h-3.9zM54 76h3.9v13.9h-3.9z"/><path fill="#461f75" d="M99 10h11.9v3.9h-11.9zM33 13h3.9v3.9h-3.9zM51 13h3.9v3.9h-3.9zM96 13h14.9v3.9h-14.9zM33 16h3.9v3.9h-3.9zM39 16h3.9v3.9h-3.9zM51 16h3.9v3.9h-3.9zM93 16h17.9v3.9h-17.9zM30 19h3.9v3.9h-3.9zM36 19h6.9v3.9h-6.9zM51 19h3.9v3.9h-3.9zM90 19h9.9v3.9h-9.9zM27 22h3.9v3.9h-3.9zM36 22h3.9v3.9h-3.9zM51 22h6.9v3.9h-6.9zM87 22h9.9v3.9h-9.9zM24 25h3.9v3.9h-3.9zM51 25h3.9v3.9h-3.9zM84 25h9.9v3.9h-9.9zM24 28h3.9v3.9h-3.9zM30 28h9.9v3.9h-9.9zM51 28h3.9v3.9h-3.9zM81 28h9.9v3.9h-9.9zM21 31h3.9v3.9h-3.9zM78 31h9.9v3.9h-9.9zM12 34h6.9v3.9h-6.9zM75 34h9.9v3.9h-9.9zM57 37h3.9v3.9h-3.9zM72 37h9.9v3.9h-9.9zM69 40h9.9v3.9h-9.9zM69 43h6.9v3.9h-6.9zM63 46h3.9v3.9h-3.9zM63 52h3.9v3.9h-3.9zM72 52h6.9v3.9h-6.9zM75 61h3.9v3.9h-3.9zM75 64h3.9v3.9h-3.9zM72 67h6.9v3.9h-6.9zM69 70h9.9v3.9h-9.9zM48 73h6.9v3.9h-6.9zM69 73h9.9v3.9h-9.9zM72 76h9.9v13.9h-9.9z"/><path fill="#faf22d" d="M45 13h3.9v3.9h-3.9zM45 16h3.9v3.9h-3.9zM45 19h3.9v3.9h-3.9zM42 22h6.9v3.9h-6.9zM42 25h6.9v3.9h-6.9zM42 28h6.9v3.9h-6.9zM30 31h3.9v3.9h-3.9zM42 31h6.9v3.9h-6.9zM36 34h12.9v3.9h-12.9zM15 37h3.9v3.9h-3.9zM21 37h3.9v3.9h-3.9zM33 37h15.9v3.9h-15.9zM51 37h3.9v3.9h-3.9zM0 40h24.9v3.9h-24.9zM33 40h15.9v3.9h-15.9zM51 40h3.9v3.9h-3.9zM0 43h24.9v3.9h-24.9zM27 43h3.9v3.9h-3.9zM36 43h12.9v3.9h-12.9zM51 43h12.9v3.9h-12.9zM0 46h30.9v3.9h-30.9zM33 46h27.9v3.9h-27.9zM0 49h42.9v3.9h-42.9zM45 49h15.9v3.9h-15.9zM0 52h24.9v3.9h-24.9zM30 52h30.9v3.9h-30.9zM0 55h24.9v3.9h-24.9zM30 55h33.9v3.9h-33.9zM0 58h27.9v3.9h-27.9zM30 58h36.9v3.9h-36.9zM0 61h63.9v3.9h-63.9zM0 64h69.9v3.9h-69.9zM0 67h45.9v3.9h-45.9zM54 67h12.9v3.9h-12.9zM0 70h42.9v3.9h-42.9zM57 70h9.9v3.9h-9.9zM0 73h36.9v3.9h-36.9zM57 73h12.9v3.9h-12.9zM0 76h36.9v13.9h-36.9zM57 76h15.9v13.9h-15.9z"/><path fill="#2e8b8d" d="M48 19h3.9v3.9h-3.9zM33 25h3.9v3.9h-3.9zM21 34h6.9v3.9h-6.9zM27 37h3.9v3.9h-3.9zM48 37h3.9v3.9h-3.9zM57 40h3.9v3.9h-3.9zM24 43h3.9v3.9h-3.9zM27 55h3.9v3.9h-3.9zM48 70h3.9v3.9h-3.9z"/><path fill="#29ac88" d="M36 25h6.9v3.9h-6.9zM33 31h3.9v3.9h-3.9zM48 31h3.9v3.9h-3.9zM48 34h3.9v3.9h-3.9zM24 40h3.9v3.9h-3.9zM30 46h3.9v3.9h-3.9zM24 52h3.9v3.9h-3.9zM60 52h3.9v3.9h-3.9zM63 55h3.9v3.9h-3.9zM69 58h3.9v3.9h-3.9zM66 61h6.9v3.9h-6.9z"/><path fill="#b7ee32" d="M27 31h3.9v3.9h-3.9zM54 40h3.9v3.9h-3.9zM33 43h3.9v3.9h-3.9zM48 43h3.9v3.9h-3.9zM66 58h3.9v3.9h-3.9zM63 61h3.9v3.9h-3.9z"/><path fill="#40c97a" d="M18 37h3.9v3.9h-3.9zM24 37h3.9v3.9h-3.9zM30 40h3.9v3.9h-3.9zM48 40h3.9v3.9h-3.9zM30 43h3.9v3.9h-3.9zM42 49h3.9v3.9h-3.9zM27 52h3.9v3.9h-3.9zM66 55h3.9v3.9h-3.9zM66 67h3.9v3.9h-3.9z"/></g></g>
<use href="#grid"/>
<use href="#lines"/>
<use href="#lakes"/>
</g>
<rect x="0.5" y="0.5" width="105.6" height="88.0" fill="none" stroke="#a0a0a0" stroke-width="0.8"/>
</g><g transform="translate(12.06,419.20)"><g clip-path="url(#boxclip)">
<rect x="0.5" y="0.5" width="105.6" height="88.0" fill="#fff"/>
<use href="#sea" fill="#f0ffff"/>
<path d="M28.7,10.8 L32.9,10.5 L34.7,11.5 L37.0,7.4 L38.8,8.8 L41.1,10.1 L44.6,9.5 L47.0,9.9 L50.5,9.7 L54.0,11.1 L56.9,13.4 L61.3,17.2 L64.5,20.5 L67.5,20.8 L68.1,22.5 L64.6,23.7 L61.7,27.2 L61.2,31.5 L66.3,32.1 L67.5,35.3 L70.1,39.1 L73.9,43.5 L80.3,46.7 L89.2,49.9 L99.4,51.2 L93.0,58.2 L86.6,64.5 L80.3,70.3 L72.6,70.9 L67.5,73.2 L62.5,74.5 L59.3,75.9 L56.2,75.0 L53.1,74.9 L50.1,76.9 L47.0,78.9 L42.9,78.4 L37.8,77.4 L33.7,75.4 L30.7,73.3 L27.6,72.8 L24.0,70.8 L23.5,67.7 L20.4,66.2 L18.9,63.6 L17.4,60.5 L15.3,57.5 L12.3,54.4 L8.2,52.4 L6.6,50.3 L8.2,47.8 L12.3,47.3 L13.3,45.2 L13.3,42.0 L12.5,40.5 L13.3,38.3 L14.8,35.8 L16.4,33.7 L17.4,31.7 L18.9,28.6 L19.9,27.1 L21.5,24.5 L24.0,22.0 L26.6,19.4 L28.1,15.3 Z" fill="#000004" stroke="#000004" stroke-width="2.6" stroke-linejoin="miter"/><path d="M53.1,11.2 L54.5,8.5 L58.2,10.3 L62.3,14.4 L66.4,18.4 L68.7,20.8 L67.5,21.5 L64.5,20.5 L61.3,17.4 L57.2,13.3 Z" fill="#000004"/>
<g clip-path="url(#ethclip)"><g filter="url(#blurs)"><path fill="#c33547" d="M0 0h27.9v10.9h-27.9zM0 10h30.9v3.9h-30.9zM0 13h30.9v3.9h-30.9zM9 16h21.9v3.9h-21.9zM54 16h3.9v3.9h-3.9zM12 19h15.9v3.9h-15.9zM15 22h6.9v3.9h-6.9zM18 25h6.9v3.9h-6.9zM21 28h3.9v3.9h-3.9zM18 34h3.9v3.9h-3.9zM18 55h3.9v3.9h-3.9zM27 64h3.9v3.9h-3.9zM66 70h6.9v3.9h-6.9z"/><path fill="#9b1c5f" d="M27 0h9.9v10.9h-9.9zM0 16h9.9v3.9h-9.9zM0 19h12.9v3.9h-12.9zM0 22h15.9v3.9h-15.9zM9 25h9.9v3.9h-9.9zM12 28h9.9v3.9h-9.9zM24 58h3.9v3.9h-3.9zM69 58h3.9v3.9h-3.9zM69 61h3.9v3.9h-3.9zM30 70h3.9v3.9h-3.9zM30 73h6.9v3.9h-6.9zM27 76h9.9v13.9h-9.9z"/><path fill="#000003" d="M36 0h15.9v10.9h-15.9zM63 0h47.9v10.9h-47.9zM36 10h15.9v3.9h-15.9zM60 10h50.9v3.9h-50.9zM36 13h15.9v3.9h-15.9zM60 13h50.9v3.9h-50.9zM33 16h18.9v3.9h-18.9zM60 16h50.9v3.9h-50.9zM33 19h18.9v3.9h-18.9zM60 19h50.9v3.9h-50.9zM30 22h80.9v3.9h-80.9zM30 25h80.9v3.9h-80.9zM27 28h83.9v3.9h-83.9zM27 31h83.9v3.9h-83.9zM0 34h9.9v3.9h-9.9zM27 34h83.9v3.9h-83.9zM0 37h12.9v3.9h-12.9zM27 37h83.9v3.9h-83.9zM0 40h18.9v3.9h-18.9zM24 40h86.9v3.9h-86.9zM18 43h92.9v3.9h-92.9zM18 46h92.9v3.9h-92.9zM18 49h92.9v3.9h-92.9zM21 52h89.9v3.9h-89.9zM21 55h39.9v3.9h-39.9zM66 55h44.9v3.9h-44.9zM21 58h3.9v3.9h-3.9zM27 58h33.9v3.9h-33.9zM63 58h3.9v3.9h-3.9zM75 58h35.9v3.9h-35.9zM27 61h30.9v3.9h-30.9zM78 61h32.9v3.9h-32.9zM36 64h18.9v3.9h-18.9zM69 64h3.9v3.9h-3.9zM81 64h29.9v3.9h-29.9zM39 67h15.9v3.9h-15.9zM69 67h6.9v3.9h-6.9zM78 67h32.9v3.9h-32.9zM39 70h15.9v3.9h-15.9zM72 70h3.9v3.9h-3.9zM78 70h32.9v3.9h-32.9zM39 73h15.9v3.9h-15.9zM78 73h32.9v3.9h-32.9zM36 76h24.9v13.9h-24.9zM78 76h32.9v13.9h-32.9z"/><path fill="#e16029" d="M51 0h12.9v10.9h-12.9zM51 10h9.9v3.9h-9.9zM54 13h3.9v3.9h-3.9zM51 16h3.9v3.9h-3.9zM21 22h6.9v3.9h-6.9zM21 37h3.9v3.9h-3.9zM9 43h6.9v3.9h-6.9zM60 64h3.9v3.9h-3.9zM66 73h9.9v3.9h-9.9zM66 76h12.9v13.9h-12.9z"/><path fill="#710d6b" d="M30 10h3.9v3.9h-3.9zM57 16h3.9v3.9h-3.9zM27 19h3.9v3.9h-3.9zM51 19h3.9v3.9h-3.9zM0 25h9.9v3.9h-9.9zM24 25h3.9v3.9h-3.9zM0 28h12.9v3.9h-12.9zM0 31h21.9v3.9h-21.9zM9 34h9.9v3.9h-9.9zM18 52h3.9v3.9h-3.9zM15 58h6.9v3.9h-6.9zM66 58h3.9v3.9h-3.9zM12 61h6.9v3.9h-6.9zM66 61h3.9v3.9h-3.9zM9 64h6.9v3.9h-6.9zM63 64h3.9v3.9h-3.9zM0 67h12.9v3.9h-12.9zM30 67h3.9v3.9h-3.9zM0 70h9.9v3.9h-9.9zM33 70h3.9v3.9h-3.9zM36 73h3.9v3.9h-3.9z"/><path fill="#450067" d="M33 10h3.9v3.9h-3.9zM30 13h3.9v3.9h-3.9zM57 13h3.9v3.9h-3.9zM30 16h3.9v3.9h-3.9zM54 19h6.9v3.9h-6.9zM27 22h3.9v3.9h-3.9zM24 28h3.9v3.9h-3.9zM21 31h3.9v3.9h-3.9zM21 34h3.9v3.9h-3.9zM18 37h3.9v3.9h-3.9zM21 40h3.9v3.9h-3.9zM63 55h3.9v3.9h-3.9zM72 58h3.9v3.9h-3.9zM18 61h6.9v3.9h-6.9zM63 61h3.9v3.9h-3.9zM72 61h3.9v3.9h-3.9zM30 64h3.9v3.9h-3.9zM57 64h3.9v3.9h-3.9zM75 64h6.9v3.9h-6.9zM33 67h3.9v3.9h-3.9zM57 67h3.9v3.9h-3.9zM66 67h3.9v3.9h-3.9zM36 70h3.9v3.9h-3.9zM57 70h3.9v3.9h-3.9zM57 73h3.9v3.9h-3.9z"/><path fill="#1a073f" d="M33 13h3.9v3.9h-3.9zM30 19h3.9v3.9h-3.9zM27 25h3.9v3.9h-3.9zM24 31h3.9v3.9h-3.9zM24 34h3.9v3.9h-3.9zM12 37h6.9v3.9h-6.9zM24 37h3.9v3.9h-3.9zM18 40h3.9v3.9h-3.9zM15 43h3.9v3.9h-3.9zM60 55h3.9v3.9h-3.9zM60 58h3.9v3.9h-3.9zM57 61h6.9v3.9h-6.9zM75 61h3.9v3.9h-3.9zM33 64h3.9v3.9h-3.9zM54 64h3.9v3.9h-3.9zM66 64h3.9v3.9h-3.9zM72 64h3.9v3.9h-3.9zM36 67h3.9v3.9h-3.9zM54 67h3.9v3.9h-3.9zM75 67h3.9v3.9h-3.9zM54 70h3.9v3.9h-3.9zM75 70h3.9v3.9h-3.9zM54 73h3.9v3.9h-3.9zM75 73h3.9v3.9h-3.9z"/><path fill="#f29b0d" d="M51 13h3.9v3.9h-3.9zM15 64h9.9v3.9h-9.9zM27 67h3.9v3.9h-3.9zM60 73h3.9v3.9h-3.9zM60 76h3.9v13.9h-3.9z"/><path fill="#fcffa8" d="M0 43h9.9v3.9h-9.9zM0 46h18.9v3.9h-18.9zM0 49h15.9v3.9h-15.9zM0 52h15.9v3.9h-15.9zM0 55h18.9v3.9h-18.9zM0 58h15.9v3.9h-15.9zM0 61h12.9v3.9h-12.9zM24 61h3.9v3.9h-3.9zM0 64h9.9v3.9h-9.9zM24 64h3.9v3.9h-3.9zM12 67h15.9v3.9h-15.9zM9 70h15.9v3.9h-15.9zM60 70h6.9v3.9h-6.9zM0 73h21.9v3.9h-21.9zM0 76h18.9v13.9h-18.9z"/><path fill="#f3d743" d="M15 49h3.9v3.9h-3.9zM15 52h3.9v3.9h-3.9zM60 67h6.9v3.9h-6.9zM24 70h6.9v3.9h-6.9zM21 73h9.9v3.9h-9.9zM63 73h3.9v3.9h-3.9zM18 76h9.9v13.9h-9.9zM63 76h3.9v13.9h-3.9z"/></g></g>
<use href="#grid"/>
<use href="#lines"/>
<use href="#lakes"/>
</g>
<rect x="0.5" y="0.5" width="105.6" height="88.0" fill="none" stroke="#a0a0a0" stroke-width="0.8"/>
</g><g transform="translate(148.76,419.20)"><g clip-path="url(#boxclip)">
<rect x="0.5" y="0.5" width="105.6" height="88.0" fill="#fff"/>
<use href="#sea" fill="#f0ffff"/>

<g clip-path="url(#ethclip)"><g filter="url(#blurs)"><path fill="#f8a2ab" d="M0 0h24.9v10.9h-24.9zM0 10h33.9v3.9h-33.9zM0 13h30.9v3.9h-30.9zM51 13h6.9v3.9h-6.9zM9 16h21.9v3.9h-21.9zM57 16h3.9v3.9h-3.9zM12 19h15.9v3.9h-15.9zM54 19h3.9v3.9h-3.9zM15 22h6.9v3.9h-6.9zM18 25h6.9v3.9h-6.9zM66 55h3.9v3.9h-3.9zM66 58h3.9v3.9h-3.9zM57 67h3.9v3.9h-3.9zM60 70h3.9v3.9h-3.9z"/><path fill="#fac0c7" d="M24 0h9.9v10.9h-9.9zM54 0h15.9v10.9h-15.9zM36 10h3.9v3.9h-3.9zM54 10h12.9v3.9h-12.9zM30 13h3.9v3.9h-3.9zM57 13h6.9v3.9h-6.9zM0 16h9.9v3.9h-9.9zM30 16h3.9v3.9h-3.9zM51 16h3.9v3.9h-3.9zM0 19h12.9v3.9h-12.9zM27 19h3.9v3.9h-3.9zM57 19h3.9v3.9h-3.9zM0 22h15.9v3.9h-15.9zM21 22h6.9v3.9h-6.9zM0 25h18.9v3.9h-18.9zM24 25h3.9v3.9h-3.9zM0 28h24.9v3.9h-24.9zM0 31h21.9v3.9h-21.9zM9 34h9.9v3.9h-9.9zM21 34h3.9v3.9h-3.9zM18 37h6.9v3.9h-6.9zM21 40h6.9v3.9h-6.9zM60 52h3.9v3.9h-3.9zM60 55h3.9v3.9h-3.9zM69 55h3.9v3.9h-3.9zM72 58h3.9v3.9h-3.9zM66 61h3.9v3.9h-3.9zM72 61h3.9v3.9h-3.9zM27 64h6.9v3.9h-6.9zM54 64h6.9v3.9h-6.9zM72 64h6.9v3.9h-6.9zM27 67h9.9v3.9h-9.9zM54 67h3.9v3.9h-3.9zM30 70h6.9v3.9h-6.9zM57 70h3.9v3.9h-3.9zM63 70h3.9v3.9h-3.9zM33 73h3.9v3.9h-3.9z"/><path fill="#fcdfe2" d="M33 0h9.9v10.9h-9.9zM51 0h3.9v10.9h-3.9zM69 0h6.9v10.9h-6.9zM33 10h3.9v3.9h-3.9zM51 10h3.9v3.9h-3.9zM66 10h6.9v3.9h-6.9zM36 13h3.9v3.9h-3.9zM63 13h6.9v3.9h-6.9zM60 16h6.9v3.9h-6.9zM30 19h3.9v3.9h-3.9zM51 19h3.9v3.9h-3.9zM60 19h3.9v3.9h-3.9zM27 22h3.9v3.9h-3.9zM51 22h9.9v3.9h-9.9zM27 25h3.9v3.9h-3.9zM54 25h3.9v3.9h-3.9zM24 28h3.9v3.9h-3.9zM54 28h3.9v3.9h-3.9zM21 31h6.9v3.9h-6.9zM18 34h3.9v3.9h-3.9zM24 34h3.9v3.9h-3.9zM12 37h6.9v3.9h-6.9zM24 37h3.9v3.9h-3.9zM18 40h3.9v3.9h-3.9zM15 46h3.9v3.9h-3.9zM15 49h3.9v3.9h-3.9zM60 49h9.9v3.9h-9.9zM63 52h6.9v3.9h-6.9zM63 55h3.9v3.9h-3.9zM72 55h3.9v3.9h-3.9zM21 58h6.9v3.9h-6.9zM60 58h6.9v3.9h-6.9zM75 58h3.9v3.9h-3.9zM18 61h6.9v3.9h-6.9zM27 61h3.9v3.9h-3.9zM54 61h3.9v3.9h-3.9zM63 61h3.9v3.9h-3.9zM75 61h3.9v3.9h-3.9zM15 64h9.9v3.9h-9.9zM33 64h3.9v3.9h-3.9zM60 64h3.9v3.9h-3.9zM66 64h6.9v3.9h-6.9zM78 64h3.9v3.9h-3.9zM12 67h9.9v3.9h-9.9zM60 67h6.9v3.9h-6.9zM75 67h9.9v3.9h-9.9zM9 70h9.9v3.9h-9.9zM27 70h3.9v3.9h-3.9zM45 70h3.9v3.9h-3.9zM54 70h3.9v3.9h-3.9zM66 70h3.9v3.9h-3.9zM75 70h12.9v3.9h-12.9zM0 73h15.9v3.9h-15.9zM27 73h6.9v3.9h-6.9zM54 73h15.9v3.9h-15.9zM78 73h12.9v3.9h-12.9zM0 76h12.9v13.9h-12.9zM24 76h9.9v13.9h-9.9zM54 76h18.9v13.9h-18.9zM81 76h12.9v13.9h-12.9z"/><path fill="#fffefe" d="M42 0h9.9v10.9h-9.9zM75 0h35.9v10.9h-35.9zM39 10h12.9v3.9h-12.9zM72 10h38.9v3.9h-38.9zM33 13h3.9v3.9h-3.9zM39 13h12.9v3.9h-12.9zM69 13h41.9v3.9h-41.9zM33 16h18.9v3.9h-18.9zM66 16h44.9v3.9h-44.9zM33 19h18.9v3.9h-18.9zM63 19h47.9v3.9h-47.9zM30 22h21.9v3.9h-21.9zM60 22h50.9v3.9h-50.9zM30 25h24.9v3.9h-24.9zM57 25h53.9v3.9h-53.9zM27 28h27.9v3.9h-27.9zM57 28h53.9v3.9h-53.9zM27 31h83.9v3.9h-83.9zM0 34h9.9v3.9h-9.9zM27 34h83.9v3.9h-83.9zM0 37h12.9v3.9h-12.9zM27 37h83.9v3.9h-83.9zM0 40h18.9v3.9h-18.9zM27 40h83.9v3.9h-83.9zM0 43h110.9v3.9h-110.9zM0 46h12.9v3.9h-12.9zM18 46h92.9v3.9h-92.9zM0 49h9.9v3.9h-9.9zM18 49h42.9v3.9h-42.9zM69 49h41.9v3.9h-41.9zM0 52h9.9v3.9h-9.9zM18 52h42.9v3.9h-42.9zM69 52h41.9v3.9h-41.9zM12 55h48.9v3.9h-48.9zM75 55h35.9v3.9h-35.9zM9 58h12.9v3.9h-12.9zM27 58h33.9v3.9h-33.9zM78 58h32.9v3.9h-32.9zM0 61h18.9v3.9h-18.9zM30 61h24.9v3.9h-24.9zM57 61h6.9v3.9h-6.9zM78 61h32.9v3.9h-32.9zM0 64h15.9v3.9h-15.9zM36 64h18.9v3.9h-18.9zM63 64h3.9v3.9h-3.9zM81 64h29.9v3.9h-29.9zM0 67h12.9v3.9h-12.9zM36 67h18.9v3.9h-18.9zM66 67h9.9v3.9h-9.9zM84 67h26.9v3.9h-26.9zM0 70h9.9v3.9h-9.9zM36 70h9.9v3.9h-9.9zM48 70h6.9v3.9h-6.9zM69 70h6.9v3.9h-6.9zM87 70h23.9v3.9h-23.9zM36 73h18.9v3.9h-18.9zM69 73h9.9v3.9h-9.9zM90 73h20.9v3.9h-20.9zM33 76h21.9v13.9h-21.9zM72 76h9.9v13.9h-9.9zM93 76h17.9v13.9h-17.9z"/><path fill="#f68490" d="M54 16h3.9v3.9h-3.9zM69 58h3.9v3.9h-3.9zM69 61h3.9v3.9h-3.9z"/><path fill="#e2e0fe" d="M12 46h3.9v3.9h-3.9zM9 49h3.9v3.9h-3.9zM15 52h3.9v3.9h-3.9zM24 61h3.9v3.9h-3.9zM24 64h3.9v3.9h-3.9zM21 67h6.9v3.9h-6.9zM18 70h9.9v3.9h-9.9zM15 73h12.9v3.9h-12.9zM12 76h12.9v13.9h-12.9z"/><path fill="#c6c2fd" d="M12 49h3.9v3.9h-3.9zM9 52h6.9v3.9h-6.9zM0 55h12.9v3.9h-12.9zM0 58h9.9v3.9h-9.9z"/></g></g>
<use href="#grid"/>
<use href="#lines"/>
<use href="#lakes"/>
</g>
<rect x="0.5" y="0.5" width="105.6" height="88.0" fill="none" stroke="#a0a0a0" stroke-width="0.8"/>
</g><g transform="translate(285.46,419.20)"><g clip-path="url(#boxclip)">
<rect x="0.5" y="0.5" width="105.6" height="88.0" fill="#fff"/>
<use href="#sea" fill="#f0ffff"/>

<g clip-path="url(#ethclip)"><g filter="url(#blurf)"><path fill="#faf22d" d="M0 0h15.9v10.9h-15.9zM42 0h9.9v10.9h-9.9zM90 0h20.9v10.9h-20.9zM9 10h9.9v3.9h-9.9zM39 10h12.9v3.9h-12.9zM87 10h23.9v3.9h-23.9zM12 13h9.9v3.9h-9.9zM39 13h12.9v3.9h-12.9zM84 13h26.9v3.9h-26.9zM15 16h36.9v3.9h-36.9zM81 16h29.9v3.9h-29.9zM0 19h9.9v3.9h-9.9zM18 19h9.9v3.9h-9.9zM36 19h6.9v3.9h-6.9zM45 19h6.9v3.9h-6.9zM78 19h32.9v3.9h-32.9zM0 22h12.9v3.9h-12.9zM27 22h24.9v3.9h-24.9zM75 22h35.9v3.9h-35.9zM0 25h15.9v3.9h-15.9zM30 25h21.9v3.9h-21.9zM72 25h38.9v3.9h-38.9zM0 28h24.9v3.9h-24.9zM27 28h24.9v3.9h-24.9zM69 28h41.9v3.9h-41.9zM0 31h24.9v3.9h-24.9zM27 31h24.9v3.9h-24.9zM63 31h47.9v3.9h-47.9zM0 34h21.9v3.9h-21.9zM27 34h27.9v3.9h-27.9zM60 34h50.9v3.9h-50.9zM0 37h21.9v3.9h-21.9zM27 37h24.9v3.9h-24.9zM60 37h50.9v3.9h-50.9zM0 40h24.9v3.9h-24.9zM27 40h83.9v3.9h-83.9zM0 43h51.9v3.9h-51.9zM54 43h36.9v3.9h-36.9zM93 43h17.9v3.9h-17.9zM0 46h87.9v3.9h-87.9zM93 46h17.9v3.9h-17.9zM0 49h15.9v3.9h-15.9zM18 49h42.9v3.9h-42.9zM69 49h15.9v3.9h-15.9zM93 49h17.9v3.9h-17.9zM0 52h60.9v3.9h-60.9zM69 52h18.9v3.9h-18.9zM99 52h11.9v3.9h-11.9zM0 55h21.9v3.9h-21.9zM24 55h3.9v3.9h-3.9zM33 55h27.9v3.9h-27.9zM78 55h9.9v3.9h-9.9zM0 58h18.9v3.9h-18.9zM30 58h21.9v3.9h-21.9zM54 58h9.9v3.9h-9.9zM81 58h12.9v3.9h-12.9zM0 61h21.9v3.9h-21.9zM27 61h30.9v3.9h-30.9zM81 61h15.9v3.9h-15.9zM0 64h18.9v3.9h-18.9zM36 64h18.9v3.9h-18.9zM63 64h3.9v3.9h-3.9zM81 64h18.9v3.9h-18.9zM0 67h15.9v3.9h-15.9zM21 67h6.9v3.9h-6.9zM36 67h9.9v3.9h-9.9zM51 67h3.9v3.9h-3.9zM66 67h3.9v3.9h-3.9zM84 67h26.9v3.9h-26.9zM0 70h12.9v3.9h-12.9zM18 70h12.9v3.9h-12.9zM36 70h9.9v3.9h-9.9zM51 70h6.9v3.9h-6.9zM87 70h23.9v3.9h-23.9zM0 73h9.9v3.9h-9.9zM15 73h12.9v3.9h-12.9zM36 73h12.9v3.9h-12.9zM51 73h3.9v3.9h-3.9zM90 73h20.9v3.9h-20.9zM12 76h12.9v13.9h-12.9zM33 76h18.9v13.9h-18.9zM93 76h17.9v13.9h-17.9z"/><path fill="#40c97a" d="M15 0h27.9v10.9h-27.9zM18 10h15.9v3.9h-15.9zM21 13h9.9v3.9h-9.9zM21 22h6.9v3.9h-6.9zM57 22h18.9v3.9h-18.9zM21 37h3.9v3.9h-3.9zM51 37h3.9v3.9h-3.9zM90 43h3.9v3.9h-3.9zM90 46h3.9v3.9h-3.9zM84 49h3.9v3.9h-3.9zM90 49h3.9v3.9h-3.9zM93 52h6.9v3.9h-6.9zM30 55h3.9v3.9h-3.9zM96 55h14.9v3.9h-14.9zM27 58h3.9v3.9h-3.9zM99 58h11.9v3.9h-11.9zM60 61h3.9v3.9h-3.9zM24 64h3.9v3.9h-3.9zM48 67h3.9v3.9h-3.9zM69 67h3.9v3.9h-3.9zM69 70h6.9v3.9h-6.9zM27 73h6.9v3.9h-6.9zM48 73h3.9v3.9h-3.9zM69 73h9.9v3.9h-9.9zM24 76h9.9v13.9h-9.9zM69 76h12.9v13.9h-12.9z"/><path fill="#29ac88" d="M51 0h3.9v10.9h-3.9zM69 0h21.9v10.9h-21.9zM51 10h3.9v3.9h-3.9zM66 10h21.9v3.9h-21.9zM30 13h3.9v3.9h-3.9zM63 13h21.9v3.9h-21.9zM60 16h21.9v3.9h-21.9zM27 19h6.9v3.9h-6.9zM54 19h3.9v3.9h-3.9zM60 19h18.9v3.9h-18.9zM24 25h3.9v3.9h-3.9zM60 25h12.9v3.9h-12.9zM63 28h6.9v3.9h-6.9zM87 46h3.9v3.9h-3.9zM60 49h3.9v3.9h-3.9zM87 49h3.9v3.9h-3.9zM27 55h3.9v3.9h-3.9zM75 58h6.9v3.9h-6.9zM63 61h3.9v3.9h-3.9zM78 61h3.9v3.9h-3.9zM72 64h3.9v3.9h-3.9zM48 70h3.9v3.9h-3.9zM54 73h3.9v3.9h-3.9zM60 73h6.9v3.9h-6.9zM60 76h9.9v13.9h-9.9z"/><path fill="#2e8b8d" d="M54 0h9.9v10.9h-9.9zM54 10h6.9v3.9h-6.9zM36 13h3.9v3.9h-3.9zM51 13h3.9v3.9h-3.9zM54 16h3.9v3.9h-3.9zM51 25h3.9v3.9h-3.9zM15 49h3.9v3.9h-3.9zM60 52h3.9v3.9h-3.9zM90 52h3.9v3.9h-3.9zM63 55h3.9v3.9h-3.9zM75 55h3.9v3.9h-3.9zM87 55h3.9v3.9h-3.9zM18 58h3.9v3.9h-3.9zM24 58h3.9v3.9h-3.9zM63 58h3.9v3.9h-3.9zM72 58h3.9v3.9h-3.9zM21 61h6.9v3.9h-6.9zM57 61h3.9v3.9h-3.9zM66 64h3.9v3.9h-3.9zM78 64h3.9v3.9h-3.9zM57 70h3.9v3.9h-3.9z"/><path fill="#366b8c" d="M63 0h6.9v10.9h-6.9zM36 10h3.9v3.9h-3.9zM60 10h6.9v3.9h-6.9zM57 13h6.9v3.9h-6.9zM51 16h3.9v3.9h-3.9zM54 22h3.9v3.9h-3.9zM57 28h6.9v3.9h-6.9zM21 34h6.9v3.9h-6.9zM57 34h3.9v3.9h-3.9zM24 37h3.9v3.9h-3.9zM24 40h3.9v3.9h-3.9zM66 49h3.9v3.9h-3.9zM87 52h3.9v3.9h-3.9zM21 55h3.9v3.9h-3.9zM72 55h3.9v3.9h-3.9zM21 58h3.9v3.9h-3.9zM75 61h3.9v3.9h-3.9zM18 64h6.9v3.9h-6.9zM27 64h6.9v3.9h-6.9zM60 64h3.9v3.9h-3.9zM15 67h6.9v3.9h-6.9zM27 67h3.9v3.9h-3.9zM54 67h3.9v3.9h-3.9zM72 67h3.9v3.9h-3.9zM12 70h6.9v3.9h-6.9zM30 70h3.9v3.9h-3.9zM63 70h3.9v3.9h-3.9zM9 73h6.9v3.9h-6.9zM33 73h3.9v3.9h-3.9zM57 73h3.9v3.9h-3.9zM0 76h12.9v13.9h-12.9z"/><path fill="#75e05c" d="M0 10h9.9v3.9h-9.9zM0 13h12.9v3.9h-12.9zM0 16h15.9v3.9h-15.9zM9 19h9.9v3.9h-9.9zM33 19h3.9v3.9h-3.9zM42 19h3.9v3.9h-3.9zM12 22h9.9v3.9h-9.9zM15 25h9.9v3.9h-9.9zM27 25h3.9v3.9h-3.9zM60 55h3.9v3.9h-3.9zM90 55h6.9v3.9h-6.9zM51 58h3.9v3.9h-3.9zM93 58h6.9v3.9h-6.9zM96 61h14.9v3.9h-14.9zM33 64h3.9v3.9h-3.9zM99 64h11.9v3.9h-11.9zM63 67h3.9v3.9h-3.9z"/><path fill="#404686" d="M33 10h3.9v3.9h-3.9zM33 13h3.9v3.9h-3.9zM54 13h3.9v3.9h-3.9zM57 16h3.9v3.9h-3.9zM51 19h3.9v3.9h-3.9zM57 19h3.9v3.9h-3.9zM51 22h3.9v3.9h-3.9zM54 25h3.9v3.9h-3.9zM24 28h3.9v3.9h-3.9zM54 28h3.9v3.9h-3.9zM24 31h3.9v3.9h-3.9zM54 31h9.9v3.9h-9.9zM54 37h3.9v3.9h-3.9zM63 49h3.9v3.9h-3.9zM66 52h3.9v3.9h-3.9zM69 55h3.9v3.9h-3.9zM54 64h3.9v3.9h-3.9zM30 67h3.9v3.9h-3.9zM45 67h3.9v3.9h-3.9zM60 67h3.9v3.9h-3.9zM45 70h3.9v3.9h-3.9zM51 76h9.9v13.9h-9.9z"/><path fill="#461f75" d="M57 25h3.9v3.9h-3.9zM51 28h3.9v3.9h-3.9zM51 31h3.9v3.9h-3.9zM54 34h3.9v3.9h-3.9zM63 52h3.9v3.9h-3.9zM66 55h3.9v3.9h-3.9zM72 61h3.9v3.9h-3.9zM57 64h3.9v3.9h-3.9zM69 64h3.9v3.9h-3.9zM75 64h3.9v3.9h-3.9zM33 67h3.9v3.9h-3.9zM57 67h3.9v3.9h-3.9zM75 67h9.9v3.9h-9.9zM33 70h3.9v3.9h-3.9zM66 70h3.9v3.9h-3.9zM75 70h12.9v3.9h-12.9zM66 73h3.9v3.9h-3.9zM78 73h12.9v3.9h-12.9zM81 76h12.9v13.9h-12.9z"/><path fill="#b7ee32" d="M57 37h3.9v3.9h-3.9zM51 43h3.9v3.9h-3.9zM60 70h3.9v3.9h-3.9z"/><path fill="#3f0051" d="M66 58h6.9v3.9h-6.9zM66 61h6.9v3.9h-6.9z"/></g></g>
<use href="#grid"/>
<use href="#lines"/>
<use href="#lakes"/>
</g>
<rect x="0.5" y="0.5" width="105.6" height="88.0" fill="none" stroke="#a0a0a0" stroke-width="0.8"/>
</g><g transform="translate(422.16,419.20)"><g clip-path="url(#boxclip)">
<rect x="0.5" y="0.5" width="105.6" height="88.0" fill="#fff"/>
<use href="#sea" fill="#f0ffff"/>

<g clip-path="url(#ethclip)"><g filter="url(#blurs)"><path fill="#f33740" d="M0 0h24.9v10.9h-24.9zM63 0h6.9v10.9h-6.9zM9 10h24.9v3.9h-24.9zM60 10h6.9v3.9h-6.9zM12 13h18.9v3.9h-18.9zM57 13h6.9v3.9h-6.9zM15 16h15.9v3.9h-15.9zM18 19h9.9v3.9h-9.9zM54 19h3.9v3.9h-3.9zM69 58h3.9v3.9h-3.9z"/><path fill="#f46673" d="M24 0h9.9v10.9h-9.9zM69 0h6.9v10.9h-6.9zM66 10h6.9v3.9h-6.9zM30 13h3.9v3.9h-3.9zM63 13h6.9v3.9h-6.9zM0 16h9.9v3.9h-9.9zM51 16h3.9v3.9h-3.9zM60 16h6.9v3.9h-6.9zM0 19h12.9v3.9h-12.9zM0 22h15.9v3.9h-15.9zM21 22h6.9v3.9h-6.9zM0 25h18.9v3.9h-18.9zM0 28h21.9v3.9h-21.9zM0 31h21.9v3.9h-21.9zM9 34h9.9v3.9h-9.9zM18 37h3.9v3.9h-3.9zM66 55h6.9v3.9h-6.9zM72 61h3.9v3.9h-3.9z"/><path fill="#f8a2ab" d="M33 0h3.9v10.9h-3.9zM51 0h3.9v10.9h-3.9zM33 10h3.9v3.9h-3.9zM51 10h3.9v3.9h-3.9zM51 19h3.9v3.9h-3.9zM27 22h3.9v3.9h-3.9zM51 22h6.9v3.9h-6.9zM54 25h3.9v3.9h-3.9zM24 28h3.9v3.9h-3.9zM21 31h3.9v3.9h-3.9zM24 34h3.9v3.9h-3.9zM21 37h3.9v3.9h-3.9zM18 40h3.9v3.9h-3.9zM24 40h3.9v3.9h-3.9zM63 49h3.9v3.9h-3.9zM66 52h3.9v3.9h-3.9zM60 55h3.9v3.9h-3.9zM72 55h3.9v3.9h-3.9zM75 58h3.9v3.9h-3.9zM66 61h3.9v3.9h-3.9zM75 61h3.9v3.9h-3.9zM27 64h6.9v3.9h-6.9zM60 64h3.9v3.9h-3.9zM78 64h3.9v3.9h-3.9zM27 67h9.9v3.9h-9.9zM54 67h3.9v3.9h-3.9zM75 67h9.9v3.9h-9.9zM30 70h6.9v3.9h-6.9zM75 70h12.9v3.9h-12.9zM33 73h3.9v3.9h-3.9zM78 73h12.9v3.9h-12.9zM81 76h12.9v13.9h-12.9z"/><path fill="#fac0c7" d="M36 0h6.9v10.9h-6.9zM36 13h3.9v3.9h-3.9zM30 19h3.9v3.9h-3.9zM57 22h3.9v3.9h-3.9zM27 25h3.9v3.9h-3.9zM51 25h3.9v3.9h-3.9zM51 28h6.9v3.9h-6.9zM24 31h3.9v3.9h-3.9zM54 31h3.9v3.9h-3.9zM54 34h3.9v3.9h-3.9zM51 37h3.9v3.9h-3.9zM15 46h3.9v3.9h-3.9zM15 49h3.9v3.9h-3.9zM60 49h3.9v3.9h-3.9zM66 49h3.9v3.9h-3.9zM18 52h3.9v3.9h-3.9zM63 52h3.9v3.9h-3.9zM63 55h3.9v3.9h-3.9zM21 58h6.9v3.9h-6.9zM63 58h3.9v3.9h-3.9zM18 61h6.9v3.9h-6.9zM27 61h3.9v3.9h-3.9zM54 61h3.9v3.9h-3.9zM78 61h3.9v3.9h-3.9zM33 64h3.9v3.9h-3.9zM69 64h3.9v3.9h-3.9zM63 67h3.9v3.9h-3.9zM72 67h3.9v3.9h-3.9zM27 70h3.9v3.9h-3.9zM45 70h3.9v3.9h-3.9zM54 70h3.9v3.9h-3.9zM66 70h3.9v3.9h-3.9zM27 73h6.9v3.9h-6.9zM54 73h6.9v3.9h-6.9zM63 73h6.9v3.9h-6.9zM24 76h9.9v13.9h-9.9zM63 76h9.9v13.9h-9.9z"/><path fill="#fffefe" d="M42 0h9.9v10.9h-9.9zM93 0h17.9v10.9h-17.9zM42 10h9.9v3.9h-9.9zM90 10h20.9v3.9h-20.9zM39 13h3.9v3.9h-3.9zM45 13h6.9v3.9h-6.9zM87 13h23.9v3.9h-23.9zM36 16h6.9v3.9h-6.9zM45 16h6.9v3.9h-6.9zM84 16h26.9v3.9h-26.9zM33 19h18.9v3.9h-18.9zM81 19h29.9v3.9h-29.9zM33 22h18.9v3.9h-18.9zM63 22h47.9v3.9h-47.9zM30 25h21.9v3.9h-21.9zM63 25h47.9v3.9h-47.9zM30 28h21.9v3.9h-21.9zM63 28h47.9v3.9h-47.9zM27 31h24.9v3.9h-24.9zM60 31h50.9v3.9h-50.9zM27 34h24.9v3.9h-24.9zM60 34h50.9v3.9h-50.9zM27 37h24.9v3.9h-24.9zM57 37h53.9v3.9h-53.9zM27 40h24.9v3.9h-24.9zM54 40h56.9v3.9h-56.9zM0 43h9.9v3.9h-9.9zM15 43h95.9v3.9h-95.9zM0 46h12.9v3.9h-12.9zM18 46h92.9v3.9h-92.9zM0 49h9.9v3.9h-9.9zM18 49h42.9v3.9h-42.9zM69 49h41.9v3.9h-41.9zM0 52h9.9v3.9h-9.9zM21 52h39.9v3.9h-39.9zM72 52h38.9v3.9h-38.9zM21 55h39.9v3.9h-39.9zM78 55h32.9v3.9h-32.9zM27 58h33.9v3.9h-33.9zM81 58h29.9v3.9h-29.9zM30 61h24.9v3.9h-24.9zM60 61h3.9v3.9h-3.9zM81 61h29.9v3.9h-29.9zM36 64h18.9v3.9h-18.9zM81 64h29.9v3.9h-29.9zM36 67h18.9v3.9h-18.9zM84 67h26.9v3.9h-26.9zM36 70h9.9v3.9h-9.9zM48 70h6.9v3.9h-6.9zM87 70h23.9v3.9h-23.9zM36 73h18.9v3.9h-18.9zM90 73h20.9v3.9h-20.9zM33 76h21.9v13.9h-21.9zM93 76h17.9v13.9h-17.9z"/><path fill="#f52728" d="M54 0h9.9v10.9h-9.9zM54 10h6.9v3.9h-6.9zM57 16h3.9v3.9h-3.9z"/><path fill="#fcdfe2" d="M75 0h18.9v10.9h-18.9zM39 10h3.9v3.9h-3.9zM72 10h18.9v3.9h-18.9zM33 13h3.9v3.9h-3.9zM42 13h3.9v3.9h-3.9zM69 13h18.9v3.9h-18.9zM33 16h3.9v3.9h-3.9zM42 16h3.9v3.9h-3.9zM66 16h18.9v3.9h-18.9zM63 19h18.9v3.9h-18.9zM30 22h3.9v3.9h-3.9zM60 22h3.9v3.9h-3.9zM57 25h6.9v3.9h-6.9zM27 28h3.9v3.9h-3.9zM57 28h6.9v3.9h-6.9zM51 31h3.9v3.9h-3.9zM57 31h3.9v3.9h-3.9zM0 34h9.9v3.9h-9.9zM21 34h3.9v3.9h-3.9zM51 34h3.9v3.9h-3.9zM57 34h3.9v3.9h-3.9zM0 37h12.9v3.9h-12.9zM24 37h3.9v3.9h-3.9zM54 37h3.9v3.9h-3.9zM0 40h18.9v3.9h-18.9zM51 40h3.9v3.9h-3.9zM9 43h6.9v3.9h-6.9zM69 52h3.9v3.9h-3.9zM12 55h9.9v3.9h-9.9zM75 55h3.9v3.9h-3.9zM9 58h12.9v3.9h-12.9zM60 58h3.9v3.9h-3.9zM78 58h3.9v3.9h-3.9zM0 61h18.9v3.9h-18.9zM57 61h3.9v3.9h-3.9zM63 61h3.9v3.9h-3.9zM0 64h24.9v3.9h-24.9zM63 64h6.9v3.9h-6.9zM0 67h21.9v3.9h-21.9zM66 67h6.9v3.9h-6.9zM0 70h18.9v3.9h-18.9zM69 70h6.9v3.9h-6.9zM0 73h15.9v3.9h-15.9zM69 73h9.9v3.9h-9.9zM0 76h12.9v13.9h-12.9zM54 76h6.9v13.9h-6.9zM72 76h9.9v13.9h-9.9z"/><path fill="#f34d59" d="M0 10h9.9v3.9h-9.9zM0 13h12.9v3.9h-12.9zM51 13h3.9v3.9h-3.9zM9 16h6.9v3.9h-6.9zM12 19h6.9v3.9h-6.9zM57 19h3.9v3.9h-3.9zM15 22h6.9v3.9h-6.9zM18 25h6.9v3.9h-6.9zM66 58h3.9v3.9h-3.9zM69 61h3.9v3.9h-3.9z"/><path fill="#f68490" d="M36 10h3.9v3.9h-3.9zM30 16h3.9v3.9h-3.9zM27 19h3.9v3.9h-3.9zM60 19h3.9v3.9h-3.9zM24 25h3.9v3.9h-3.9zM21 28h3.9v3.9h-3.9zM18 34h3.9v3.9h-3.9zM12 37h6.9v3.9h-6.9zM21 40h3.9v3.9h-3.9zM60 52h3.9v3.9h-3.9zM72 58h3.9v3.9h-3.9zM54 64h6.9v3.9h-6.9zM72 64h6.9v3.9h-6.9zM57 67h6.9v3.9h-6.9zM57 70h3.9v3.9h-3.9zM63 70h3.9v3.9h-3.9z"/><path fill="#f81c12" d="M54 13h3.9v3.9h-3.9zM54 16h3.9v3.9h-3.9z"/><path fill="#aba4fb" d="M12 46h3.9v3.9h-3.9zM9 49h3.9v3.9h-3.9zM24 61h3.9v3.9h-3.9zM24 64h3.9v3.9h-3.9z"/><path fill="#8f86fa" d="M12 49h3.9v3.9h-3.9zM9 52h6.9v3.9h-6.9zM0 55h12.9v3.9h-12.9zM0 58h9.9v3.9h-9.9z"/><path fill="#c6c2fd" d="M15 52h3.9v3.9h-3.9zM21 67h6.9v3.9h-6.9zM18 70h9.9v3.9h-9.9zM15 73h12.9v3.9h-12.9zM60 73h3.9v3.9h-3.9zM12 76h12.9v13.9h-12.9zM60 76h3.9v13.9h-3.9z"/><path fill="#e2e0fe" d="M60 70h3.9v3.9h-3.9z"/></g></g>
<use href="#grid"/>
<use href="#lines"/>
<use href="#lakes"/>
</g>
<rect x="0.5" y="0.5" width="105.6" height="88.0" fill="none" stroke="#a0a0a0" stroke-width="0.8"/>
</g><g transform="translate(558.86,419.20)"><g clip-path="url(#boxclip)">
<rect x="0.5" y="0.5" width="105.6" height="88.0" fill="#fff"/>
<use href="#sea" fill="#f0ffff"/>

<g clip-path="url(#ethclip)"><g filter="url(#blurf)"><path fill="#3f0051" d="M0 0h42.9v10.9h-42.9zM51 0h42.9v10.9h-42.9zM9 10h30.9v3.9h-30.9zM51 10h39.9v3.9h-39.9zM12 13h24.9v3.9h-24.9zM51 13h36.9v3.9h-36.9zM15 16h15.9v3.9h-15.9zM51 16h33.9v3.9h-33.9zM18 19h12.9v3.9h-12.9zM51 19h30.9v3.9h-30.9zM27 22h3.9v3.9h-3.9zM51 22h6.9v3.9h-6.9zM60 22h18.9v3.9h-18.9zM24 25h3.9v3.9h-3.9zM51 25h24.9v3.9h-24.9zM24 28h3.9v3.9h-3.9zM51 28h12.9v3.9h-12.9zM24 31h3.9v3.9h-3.9zM51 31h12.9v3.9h-12.9zM51 34h9.9v3.9h-9.9zM18 37h9.9v3.9h-9.9zM51 37h9.9v3.9h-9.9zM24 40h3.9v3.9h-3.9zM51 40h6.9v3.9h-6.9zM51 43h3.9v3.9h-3.9zM60 52h6.9v3.9h-6.9zM15 55h3.9v3.9h-3.9zM60 55h9.9v3.9h-9.9zM18 58h3.9v3.9h-3.9zM60 58h18.9v3.9h-18.9zM48 61h3.9v3.9h-3.9zM60 61h3.9v3.9h-3.9zM66 61h12.9v3.9h-12.9zM54 64h9.9v3.9h-9.9zM66 64h15.9v3.9h-15.9zM27 67h9.9v3.9h-9.9zM63 67h21.9v3.9h-21.9zM33 70h3.9v3.9h-3.9zM66 70h21.9v3.9h-21.9zM69 73h21.9v3.9h-21.9zM54 76h3.9v13.9h-3.9zM72 76h21.9v13.9h-21.9z"/><path fill="#faf22d" d="M42 0h9.9v10.9h-9.9zM93 0h17.9v10.9h-17.9zM39 10h12.9v3.9h-12.9zM90 10h20.9v3.9h-20.9zM39 13h12.9v3.9h-12.9zM87 13h23.9v3.9h-23.9zM33 16h18.9v3.9h-18.9zM84 16h26.9v3.9h-26.9zM0 19h9.9v3.9h-9.9zM33 19h18.9v3.9h-18.9zM81 19h29.9v3.9h-29.9zM0 22h12.9v3.9h-12.9zM30 22h21.9v3.9h-21.9zM78 22h32.9v3.9h-32.9zM9 25h6.9v3.9h-6.9zM27 25h24.9v3.9h-24.9zM75 25h35.9v3.9h-35.9zM12 28h6.9v3.9h-6.9zM27 28h24.9v3.9h-24.9zM63 28h47.9v3.9h-47.9zM15 31h9.9v3.9h-9.9zM27 31h24.9v3.9h-24.9zM63 31h47.9v3.9h-47.9zM0 34h9.9v3.9h-9.9zM27 34h24.9v3.9h-24.9zM63 34h47.9v3.9h-47.9zM0 37h18.9v3.9h-18.9zM30 37h3.9v3.9h-3.9zM36 37h15.9v3.9h-15.9zM63 37h47.9v3.9h-47.9zM0 40h21.9v3.9h-21.9zM27 40h24.9v3.9h-24.9zM60 40h50.9v3.9h-50.9zM0 43h24.9v3.9h-24.9zM27 43h21.9v3.9h-21.9zM57 43h53.9v3.9h-53.9zM0 46h15.9v3.9h-15.9zM18 46h72.9v3.9h-72.9zM93 46h17.9v3.9h-17.9zM0 49h12.9v3.9h-12.9zM18 49h42.9v3.9h-42.9zM66 49h18.9v3.9h-18.9zM87 49h3.9v3.9h-3.9zM93 49h17.9v3.9h-17.9zM0 52h12.9v3.9h-12.9zM18 52h39.9v3.9h-39.9zM69 52h12.9v3.9h-12.9zM99 52h11.9v3.9h-11.9zM0 55h9.9v3.9h-9.9zM21 55h36.9v3.9h-36.9zM78 55h3.9v3.9h-3.9zM21 58h3.9v3.9h-3.9zM33 58h15.9v3.9h-15.9zM54 58h3.9v3.9h-3.9zM27 61h21.9v3.9h-21.9zM33 64h21.9v3.9h-21.9zM21 67h6.9v3.9h-6.9zM36 67h6.9v3.9h-6.9zM48 67h6.9v3.9h-6.9zM18 70h9.9v3.9h-9.9zM36 70h6.9v3.9h-6.9zM51 70h6.9v3.9h-6.9zM15 73h15.9v3.9h-15.9zM36 73h9.9v3.9h-9.9zM51 73h6.9v3.9h-6.9zM12 76h18.9v13.9h-18.9zM33 76h15.9v13.9h-15.9zM51 76h3.9v13.9h-3.9z"/><path fill="#366b8c" d="M0 10h9.9v3.9h-9.9zM0 13h12.9v3.9h-12.9zM0 16h15.9v3.9h-15.9zM9 19h9.9v3.9h-9.9zM12 22h15.9v3.9h-15.9zM0 25h9.9v3.9h-9.9zM15 25h9.9v3.9h-9.9zM0 28h12.9v3.9h-12.9zM0 31h15.9v3.9h-15.9zM9 34h9.9v3.9h-9.9zM24 34h3.9v3.9h-3.9zM12 52h3.9v3.9h-3.9zM81 52h3.9v3.9h-3.9zM9 55h6.9v3.9h-6.9zM81 55h3.9v3.9h-3.9zM0 58h18.9v3.9h-18.9zM81 58h3.9v3.9h-3.9zM0 61h15.9v3.9h-15.9zM54 61h3.9v3.9h-3.9zM84 61h6.9v3.9h-6.9zM0 64h12.9v3.9h-12.9zM18 64h6.9v3.9h-6.9zM81 64h12.9v3.9h-12.9zM0 67h9.9v3.9h-9.9zM15 67h6.9v3.9h-6.9zM84 67h12.9v3.9h-12.9zM12 70h6.9v3.9h-6.9zM27 70h3.9v3.9h-3.9zM48 70h3.9v3.9h-3.9zM57 70h3.9v3.9h-3.9zM63 70h3.9v3.9h-3.9zM87 70h12.9v3.9h-12.9zM9 73h6.9v3.9h-6.9zM48 73h3.9v3.9h-3.9zM63 73h6.9v3.9h-6.9zM90 73h20.9v3.9h-20.9zM0 76h12.9v13.9h-12.9zM63 76h9.9v13.9h-9.9zM93 76h17.9v13.9h-17.9z"/><path fill="#2e8b8d" d="M36 13h3.9v3.9h-3.9zM21 34h3.9v3.9h-3.9zM15 46h3.9v3.9h-3.9zM57 52h3.9v3.9h-3.9zM27 58h3.9v3.9h-3.9zM48 58h3.9v3.9h-3.9z"/><path fill="#404686" d="M30 16h3.9v3.9h-3.9zM60 34h3.9v3.9h-3.9zM21 40h3.9v3.9h-3.9zM57 40h3.9v3.9h-3.9zM48 43h3.9v3.9h-3.9zM66 52h3.9v3.9h-3.9zM57 55h3.9v3.9h-3.9zM84 58h3.9v3.9h-3.9zM24 61h3.9v3.9h-3.9zM57 61h3.9v3.9h-3.9zM81 61h3.9v3.9h-3.9zM24 64h3.9v3.9h-3.9zM42 67h3.9v3.9h-3.9zM57 67h3.9v3.9h-3.9zM57 73h3.9v3.9h-3.9zM57 76h6.9v13.9h-6.9z"/><path fill="#b7ee32" d="M30 19h3.9v3.9h-3.9zM75 55h3.9v3.9h-3.9zM54 67h3.9v3.9h-3.9z"/><path fill="#75e05c" d="M57 22h3.9v3.9h-3.9zM63 61h3.9v3.9h-3.9zM60 73h3.9v3.9h-3.9z"/><path fill="#40c97a" d="M18 28h6.9v3.9h-6.9zM60 37h3.9v3.9h-3.9zM54 43h3.9v3.9h-3.9zM15 52h3.9v3.9h-3.9zM30 58h3.9v3.9h-3.9zM57 58h3.9v3.9h-3.9zM21 61h3.9v3.9h-3.9zM63 64h3.9v3.9h-3.9zM42 70h3.9v3.9h-3.9zM60 70h3.9v3.9h-3.9zM45 73h3.9v3.9h-3.9z"/><path fill="#461f75" d="M18 34h3.9v3.9h-3.9zM27 37h3.9v3.9h-3.9zM15 49h3.9v3.9h-3.9zM84 52h15.9v3.9h-15.9zM18 55h3.9v3.9h-3.9zM69 55h3.9v3.9h-3.9zM84 55h26.9v3.9h-26.9zM24 58h3.9v3.9h-3.9zM78 58h3.9v3.9h-3.9zM87 58h23.9v3.9h-23.9zM15 61h6.9v3.9h-6.9zM78 61h3.9v3.9h-3.9zM90 61h20.9v3.9h-20.9zM12 64h6.9v3.9h-6.9zM27 64h6.9v3.9h-6.9zM93 64h17.9v3.9h-17.9zM9 67h6.9v3.9h-6.9zM45 67h3.9v3.9h-3.9zM96 67h14.9v3.9h-14.9zM0 70h12.9v3.9h-12.9zM30 70h3.9v3.9h-3.9zM45 70h3.9v3.9h-3.9zM99 70h11.9v3.9h-11.9zM0 73h9.9v3.9h-9.9zM33 73h3.9v3.9h-3.9z"/><path fill="#29ac88" d="M33 37h3.9v3.9h-3.9zM24 43h3.9v3.9h-3.9zM90 46h3.9v3.9h-3.9zM12 49h3.9v3.9h-3.9zM60 49h6.9v3.9h-6.9zM84 49h3.9v3.9h-3.9zM90 49h3.9v3.9h-3.9zM72 55h3.9v3.9h-3.9zM51 58h3.9v3.9h-3.9zM51 61h3.9v3.9h-3.9zM60 67h3.9v3.9h-3.9zM30 73h3.9v3.9h-3.9zM30 76h3.9v13.9h-3.9zM48 76h3.9v13.9h-3.9z"/></g></g>
<use href="#grid"/>
<use href="#lines"/>
<use href="#lakes"/>
</g>
<rect x="0.5" y="0.5" width="105.6" height="88.0" fill="none" stroke="#a0a0a0" stroke-width="0.8"/>
</g>
<text x="12.26" y="8.10" text-anchor="start" textLength="132.10000000000002" lengthAdjust="spacingAndGlyphs" font-size="9.2">(a) Short (Mean: 1984-2014)</text><text x="148.96" y="8.10" text-anchor="start" textLength="113.8" lengthAdjust="spacingAndGlyphs" font-size="9.2">(b) Difference Med-Short</text><text x="285.66" y="8.10" text-anchor="start" textLength="121.0" lengthAdjust="spacingAndGlyphs" font-size="9.2">(c) Significance Med-Short</text><text x="422.36" y="8.10" text-anchor="start" textLength="116.8" lengthAdjust="spacingAndGlyphs" font-size="9.2">(d) Difference Long-Short</text><text x="559.06" y="8.10" text-anchor="start" textLength="124.1" lengthAdjust="spacingAndGlyphs" font-size="9.2">(e) Significance Long-Short</text><text x="12.26" y="144.50" text-anchor="start" textLength="10.39" lengthAdjust="spacingAndGlyphs" font-size="9.2">(f)</text><text x="148.96" y="144.50" text-anchor="start" textLength="12.99" lengthAdjust="spacingAndGlyphs" font-size="9.2">(g)</text><text x="285.66" y="144.50" text-anchor="start" textLength="12.98" lengthAdjust="spacingAndGlyphs" font-size="9.2">(h)</text><text x="422.36" y="144.50" text-anchor="start" textLength="9.71" lengthAdjust="spacingAndGlyphs" font-size="9.2">(i)</text><text x="559.06" y="144.50" text-anchor="start" textLength="9.71" lengthAdjust="spacingAndGlyphs" font-size="9.2">(j)</text><text x="12.26" y="280.90" text-anchor="start" textLength="12.48" lengthAdjust="spacingAndGlyphs" font-size="9.2">(k)</text><text x="148.96" y="280.90" text-anchor="start" textLength="9.71" lengthAdjust="spacingAndGlyphs" font-size="9.2">(l)</text><text x="285.66" y="280.90" text-anchor="start" textLength="16.11" lengthAdjust="spacingAndGlyphs" font-size="9.2">(m)</text><text x="422.36" y="280.90" text-anchor="start" textLength="12.98" lengthAdjust="spacingAndGlyphs" font-size="9.2">(n)</text><text x="559.06" y="280.90" text-anchor="start" textLength="12.78" lengthAdjust="spacingAndGlyphs" font-size="9.2">(o)</text><text x="12.26" y="417.30" text-anchor="start" textLength="12.99" lengthAdjust="spacingAndGlyphs" font-size="9.2">(p)</text><text x="148.96" y="417.30" text-anchor="start" textLength="12.99" lengthAdjust="spacingAndGlyphs" font-size="9.2">(q)</text><text x="285.66" y="417.30" text-anchor="start" textLength="10.94" lengthAdjust="spacingAndGlyphs" font-size="9.2">(r)</text><text x="422.36" y="417.30" text-anchor="start" textLength="11.95" lengthAdjust="spacingAndGlyphs" font-size="9.2">(s)</text><text x="559.06" y="417.30" text-anchor="start" textLength="10.76" lengthAdjust="spacingAndGlyphs" font-size="9.2">(t)</text><text x="0" y="0" text-anchor="middle" font-size="8.4" textLength="78" lengthAdjust="spacingAndGlyphs" transform="translate(8.0,54.90) rotate(-90)">Min daily temp <tspan font-size="6" dy="-2.8"> °</tspan><tspan dy="2.8">C</tspan></text><text x="0" y="0" text-anchor="middle" font-size="8.4" textLength="46.5" lengthAdjust="spacingAndGlyphs" transform="translate(8.0,188.60) rotate(-90)">Days &lt; 5<tspan font-size="6" dy="-2.8"> °</tspan><tspan dy="2.8">C</tspan></text><text x="0" y="0" text-anchor="middle" font-size="8.4" textLength="80" lengthAdjust="spacingAndGlyphs" transform="translate(8.0,328.00) rotate(-90)">Max daily temp <tspan font-size="6" dy="-2.8"> °</tspan><tspan dy="2.8">C</tspan></text><text x="0" y="0" text-anchor="middle" font-size="8.4" textLength="56" lengthAdjust="spacingAndGlyphs" transform="translate(8.0,458.90) rotate(-90)">Days &gt; 35<tspan font-size="6" dy="-2.8"> °</tspan><tspan dy="2.8">C</tspan></text><rect x="12.56" y="107.40" width="105.6" height="4.8" fill="url(#g_inf)" stroke="#444" stroke-width="0.5"/>
<path d="M39.74,112.20 v1.6" stroke="#333" stroke-width="0.5"/>
<text x="39.74" y="120.80" text-anchor="middle">10</text>
<path d="M92.02,112.20 v1.6" stroke="#333" stroke-width="0.5"/>
<text x="92.02" y="120.80" text-anchor="middle">20</text>
<text x="65.96" y="130.00" text-anchor="middle" textLength="68.8" lengthAdjust="spacingAndGlyphs">Temperature (<tspan font-size="6" dy="-2.6"> °</tspan><tspan dy="2.6">C)</tspan></text><rect x="149.26" y="107.40" width="105.6" height="4.8" fill="url(#g_bwr)" stroke="#444" stroke-width="0.5"/>
<path d="M149.26,112.20 v1.6" stroke="#333" stroke-width="0.5"/>
<text x="149.26" y="120.80" text-anchor="middle">−1.0</text>
<path d="M175.66,112.20 v1.6" stroke="#333" stroke-width="0.5"/>
<text x="175.66" y="120.80" text-anchor="middle">−0.5</text>
<path d="M202.06,112.20 v1.6" stroke="#333" stroke-width="0.5"/>
<text x="202.06" y="120.80" text-anchor="middle">0.0</text>
<path d="M228.46,112.20 v1.6" stroke="#333" stroke-width="0.5"/>
<text x="228.46" y="120.80" text-anchor="middle">0.5</text>
<path d="M254.86,112.20 v1.6" stroke="#333" stroke-width="0.5"/>
<text x="254.86" y="120.80" text-anchor="middle">1.0</text>
<text x="202.06" y="130.00" text-anchor="middle">Difference</text><rect x="285.96" y="107.40" width="105.6" height="4.8" fill="url(#g_vir)" stroke="#444" stroke-width="0.5"/>
<path d="M285.96,112.20 v1.6" stroke="#333" stroke-width="0.5"/>
<text x="285.96" y="120.80" text-anchor="middle">0.000</text>
<path d="M312.36,112.20 v1.6" stroke="#333" stroke-width="0.5"/>
<text x="312.36" y="120.80" text-anchor="middle">0.025</text>
<path d="M338.76,112.20 v1.6" stroke="#333" stroke-width="0.5"/>
<text x="338.76" y="120.80" text-anchor="middle">0.050</text>
<path d="M365.16,112.20 v1.6" stroke="#333" stroke-width="0.5"/>
<text x="365.16" y="120.80" text-anchor="middle">0.075</text>
<path d="M391.56,112.20 v1.6" stroke="#333" stroke-width="0.5"/>
<text x="391.56" y="120.80" text-anchor="middle">0.100</text>
<text x="338.76" y="130.00" text-anchor="middle">p-value</text><rect x="422.66" y="107.40" width="105.6" height="4.8" fill="url(#g_bwr)" stroke="#444" stroke-width="0.5"/>
<path d="M422.66,112.20 v1.6" stroke="#333" stroke-width="0.5"/>
<text x="422.66" y="120.80" text-anchor="middle">−1.0</text>
<path d="M449.06,112.20 v1.6" stroke="#333" stroke-width="0.5"/>
<text x="449.06" y="120.80" text-anchor="middle">−0.5</text>
<path d="M475.46,112.20 v1.6" stroke="#333" stroke-width="0.5"/>
<text x="475.46" y="120.80" text-anchor="middle">0.0</text>
<path d="M501.86,112.20 v1.6" stroke="#333" stroke-width="0.5"/>
<text x="501.86" y="120.80" text-anchor="middle">0.5</text>
<path d="M528.26,112.20 v1.6" stroke="#333" stroke-width="0.5"/>
<text x="528.26" y="120.80" text-anchor="middle">1.0</text>
<text x="475.46" y="130.00" text-anchor="middle">Difference</text><rect x="559.36" y="107.40" width="105.6" height="4.8" fill="url(#g_vir)" stroke="#444" stroke-width="0.5"/>
<path d="M559.36,112.20 v1.6" stroke="#333" stroke-width="0.5"/>
<text x="559.36" y="120.80" text-anchor="middle">0.000</text>
<path d="M585.76,112.20 v1.6" stroke="#333" stroke-width="0.5"/>
<text x="585.76" y="120.80" text-anchor="middle">0.025</text>
<path d="M612.16,112.20 v1.6" stroke="#333" stroke-width="0.5"/>
<text x="612.16" y="120.80" text-anchor="middle">0.050</text>
<path d="M638.56,112.20 v1.6" stroke="#333" stroke-width="0.5"/>
<text x="638.56" y="120.80" text-anchor="middle">0.075</text>
<path d="M664.96,112.20 v1.6" stroke="#333" stroke-width="0.5"/>
<text x="664.96" y="120.80" text-anchor="middle">0.100</text>
<text x="612.16" y="130.00" text-anchor="middle">p-value</text><rect x="12.56" y="243.80" width="105.6" height="4.8" fill="url(#g_inf)" stroke="#444" stroke-width="0.5"/>
<path d="M12.56,248.60 v1.6" stroke="#333" stroke-width="0.5"/>
<text x="12.56" y="257.20" text-anchor="middle">0.0</text>
<path d="M38.96,248.60 v1.6" stroke="#333" stroke-width="0.5"/>
<text x="38.96" y="257.20" text-anchor="middle">2.5</text>
<path d="M65.36,248.60 v1.6" stroke="#333" stroke-width="0.5"/>
<text x="65.36" y="257.20" text-anchor="middle">5.0</text>
<path d="M91.76,248.60 v1.6" stroke="#333" stroke-width="0.5"/>
<text x="91.76" y="257.20" text-anchor="middle">7.5</text>
<path d="M118.16,248.60 v1.6" stroke="#333" stroke-width="0.5"/>
<text x="118.16" y="257.20" text-anchor="middle">10.0</text>
<text x="65.36" y="266.40" text-anchor="middle">Days</text><rect x="149.26" y="243.80" width="105.6" height="4.8" fill="url(#g_bwr)" stroke="#444" stroke-width="0.5"/>
<path d="M149.26,248.60 v1.6" stroke="#333" stroke-width="0.5"/>
<text x="149.26" y="257.20" text-anchor="middle">−1.0</text>
<path d="M175.66,248.60 v1.6" stroke="#333" stroke-width="0.5"/>
<text x="175.66" y="257.20" text-anchor="middle">−0.5</text>
<path d="M202.06,248.60 v1.6" stroke="#333" stroke-width="0.5"/>
<text x="202.06" y="257.20" text-anchor="middle">0.0</text>
<path d="M228.46,248.60 v1.6" stroke="#333" stroke-width="0.5"/>
<text x="228.46" y="257.20" text-anchor="middle">0.5</text>
<path d="M254.86,248.60 v1.6" stroke="#333" stroke-width="0.5"/>
<text x="254.86" y="257.20" text-anchor="middle">1.0</text>
<text x="202.06" y="266.40" text-anchor="middle">Difference</text><rect x="285.96" y="243.80" width="105.6" height="4.8" fill="url(#g_vir)" stroke="#444" stroke-width="0.5"/>
<path d="M285.96,248.60 v1.6" stroke="#333" stroke-width="0.5"/>
<text x="285.96" y="257.20" text-anchor="middle">0.000</text>
<path d="M312.36,248.60 v1.6" stroke="#333" stroke-width="0.5"/>
<text x="312.36" y="257.20" text-anchor="middle">0.025</text>
<path d="M338.76,248.60 v1.6" stroke="#333" stroke-width="0.5"/>
<text x="338.76" y="257.20" text-anchor="middle">0.050</text>
<path d="M365.16,248.60 v1.6" stroke="#333" stroke-width="0.5"/>
<text x="365.16" y="257.20" text-anchor="middle">0.075</text>
<path d="M391.56,248.60 v1.6" stroke="#333" stroke-width="0.5"/>
<text x="391.56" y="257.20" text-anchor="middle">0.100</text>
<text x="338.76" y="266.40" text-anchor="middle">p-value</text><rect x="422.66" y="243.80" width="105.6" height="4.8" fill="url(#g_bwr)" stroke="#444" stroke-width="0.5"/>
<path d="M422.66,248.60 v1.6" stroke="#333" stroke-width="0.5"/>
<text x="422.66" y="257.20" text-anchor="middle">−1.0</text>
<path d="M449.06,248.60 v1.6" stroke="#333" stroke-width="0.5"/>
<text x="449.06" y="257.20" text-anchor="middle">−0.5</text>
<path d="M475.46,248.60 v1.6" stroke="#333" stroke-width="0.5"/>
<text x="475.46" y="257.20" text-anchor="middle">0.0</text>
<path d="M501.86,248.60 v1.6" stroke="#333" stroke-width="0.5"/>
<text x="501.86" y="257.20" text-anchor="middle">0.5</text>
<path d="M528.26,248.60 v1.6" stroke="#333" stroke-width="0.5"/>
<text x="528.26" y="257.20" text-anchor="middle">1.0</text>
<text x="475.46" y="266.40" text-anchor="middle">Difference</text><rect x="559.36" y="243.80" width="105.6" height="4.8" fill="url(#g_vir)" stroke="#444" stroke-width="0.5"/>
<path d="M559.36,248.60 v1.6" stroke="#333" stroke-width="0.5"/>
<text x="559.36" y="257.20" text-anchor="middle">0.000</text>
<path d="M585.76,248.60 v1.6" stroke="#333" stroke-width="0.5"/>
<text x="585.76" y="257.20" text-anchor="middle">0.025</text>
<path d="M612.16,248.60 v1.6" stroke="#333" stroke-width="0.5"/>
<text x="612.16" y="257.20" text-anchor="middle">0.050</text>
<path d="M638.56,248.60 v1.6" stroke="#333" stroke-width="0.5"/>
<text x="638.56" y="257.20" text-anchor="middle">0.075</text>
<path d="M664.96,248.60 v1.6" stroke="#333" stroke-width="0.5"/>
<text x="664.96" y="257.20" text-anchor="middle">0.100</text>
<text x="612.16" y="266.40" text-anchor="middle">p-value</text><rect x="12.56" y="380.20" width="105.6" height="4.8" fill="url(#g_inf)" stroke="#444" stroke-width="0.5"/>
<path d="M34.35,385.00 v1.6" stroke="#333" stroke-width="0.5"/>
<text x="34.35" y="393.60" text-anchor="middle">20</text>
<path d="M62.29,385.00 v1.6" stroke="#333" stroke-width="0.5"/>
<text x="62.29" y="393.60" text-anchor="middle">25</text>
<path d="M90.22,385.00 v1.6" stroke="#333" stroke-width="0.5"/>
<text x="90.22" y="393.60" text-anchor="middle">30</text>
<path d="M118.16,385.00 v1.6" stroke="#333" stroke-width="0.5"/>
<text x="118.16" y="393.60" text-anchor="middle">35</text>
<text x="65.96" y="402.80" text-anchor="middle" textLength="68.8" lengthAdjust="spacingAndGlyphs">Temperature (<tspan font-size="6" dy="-2.6"> °</tspan><tspan dy="2.6">C)</tspan></text><rect x="149.26" y="380.20" width="105.6" height="4.8" fill="url(#g_bwr)" stroke="#444" stroke-width="0.5"/>
<path d="M149.26,385.00 v1.6" stroke="#333" stroke-width="0.5"/>
<text x="149.26" y="393.60" text-anchor="middle">−0.50</text>
<path d="M175.66,385.00 v1.6" stroke="#333" stroke-width="0.5"/>
<text x="175.66" y="393.60" text-anchor="middle">−0.25</text>
<path d="M202.06,385.00 v1.6" stroke="#333" stroke-width="0.5"/>
<text x="202.06" y="393.60" text-anchor="middle">0.00</text>
<path d="M228.46,385.00 v1.6" stroke="#333" stroke-width="0.5"/>
<text x="228.46" y="393.60" text-anchor="middle">0.25</text>
<path d="M254.86,385.00 v1.6" stroke="#333" stroke-width="0.5"/>
<text x="254.86" y="393.60" text-anchor="middle">0.50</text>
<text x="202.06" y="402.80" text-anchor="middle">Difference</text><rect x="285.96" y="380.20" width="105.6" height="4.8" fill="url(#g_vir)" stroke="#444" stroke-width="0.5"/>
<path d="M285.96,385.00 v1.6" stroke="#333" stroke-width="0.5"/>
<text x="285.96" y="393.60" text-anchor="middle">0.000</text>
<path d="M312.36,385.00 v1.6" stroke="#333" stroke-width="0.5"/>
<text x="312.36" y="393.60" text-anchor="middle">0.025</text>
<path d="M338.76,385.00 v1.6" stroke="#333" stroke-width="0.5"/>
<text x="338.76" y="393.60" text-anchor="middle">0.050</text>
<path d="M365.16,385.00 v1.6" stroke="#333" stroke-width="0.5"/>
<text x="365.16" y="393.60" text-anchor="middle">0.075</text>
<path d="M391.56,385.00 v1.6" stroke="#333" stroke-width="0.5"/>
<text x="391.56" y="393.60" text-anchor="middle">0.100</text>
<text x="338.76" y="402.80" text-anchor="middle">p-value</text><rect x="422.66" y="380.20" width="105.6" height="4.8" fill="url(#g_bwr)" stroke="#444" stroke-width="0.5"/>
<path d="M422.66,385.00 v1.6" stroke="#333" stroke-width="0.5"/>
<text x="422.66" y="393.60" text-anchor="middle">−0.50</text>
<path d="M449.06,385.00 v1.6" stroke="#333" stroke-width="0.5"/>
<text x="449.06" y="393.60" text-anchor="middle">−0.25</text>
<path d="M475.46,385.00 v1.6" stroke="#333" stroke-width="0.5"/>
<text x="475.46" y="393.60" text-anchor="middle">0.00</text>
<path d="M501.86,385.00 v1.6" stroke="#333" stroke-width="0.5"/>
<text x="501.86" y="393.60" text-anchor="middle">0.25</text>
<path d="M528.26,385.00 v1.6" stroke="#333" stroke-width="0.5"/>
<text x="528.26" y="393.60" text-anchor="middle">0.50</text>
<text x="475.46" y="402.80" text-anchor="middle">Difference</text><rect x="559.36" y="380.20" width="105.6" height="4.8" fill="url(#g_vir)" stroke="#444" stroke-width="0.5"/>
<path d="M559.36,385.00 v1.6" stroke="#333" stroke-width="0.5"/>
<text x="559.36" y="393.60" text-anchor="middle">0.000</text>
<path d="M585.76,385.00 v1.6" stroke="#333" stroke-width="0.5"/>
<text x="585.76" y="393.60" text-anchor="middle">0.025</text>
<path d="M612.16,385.00 v1.6" stroke="#333" stroke-width="0.5"/>
<text x="612.16" y="393.60" text-anchor="middle">0.050</text>
<path d="M638.56,385.00 v1.6" stroke="#333" stroke-width="0.5"/>
<text x="638.56" y="393.60" text-anchor="middle">0.075</text>
<path d="M664.96,385.00 v1.6" stroke="#333" stroke-width="0.5"/>
<text x="664.96" y="393.60" text-anchor="middle">0.100</text>
<text x="612.16" y="402.80" text-anchor="middle">p-value</text><rect x="12.56" y="516.60" width="105.6" height="4.8" fill="url(#g_inf)" stroke="#444" stroke-width="0.5"/>
<path d="M12.56,521.40 v1.6" stroke="#333" stroke-width="0.5"/>
<text x="12.56" y="530.00" text-anchor="middle">0</text>
<path d="M38.96,521.40 v1.6" stroke="#333" stroke-width="0.5"/>
<text x="38.96" y="530.00" text-anchor="middle">5</text>
<path d="M65.36,521.40 v1.6" stroke="#333" stroke-width="0.5"/>
<text x="65.36" y="530.00" text-anchor="middle">10</text>
<path d="M91.76,521.40 v1.6" stroke="#333" stroke-width="0.5"/>
<text x="91.76" y="530.00" text-anchor="middle">15</text>
<path d="M118.16,521.40 v1.6" stroke="#333" stroke-width="0.5"/>
<text x="118.16" y="530.00" text-anchor="middle">20</text>
<text x="65.36" y="539.20" text-anchor="middle">Days</text><rect x="149.26" y="516.60" width="105.6" height="4.8" fill="url(#g_bwr)" stroke="#444" stroke-width="0.5"/>
<path d="M149.26,521.40 v1.6" stroke="#333" stroke-width="0.5"/>
<text x="149.26" y="530.00" text-anchor="middle">−5.0</text>
<path d="M175.66,521.40 v1.6" stroke="#333" stroke-width="0.5"/>
<text x="175.66" y="530.00" text-anchor="middle">−2.5</text>
<path d="M202.06,521.40 v1.6" stroke="#333" stroke-width="0.5"/>
<text x="202.06" y="530.00" text-anchor="middle">0.0</text>
<path d="M228.46,521.40 v1.6" stroke="#333" stroke-width="0.5"/>
<text x="228.46" y="530.00" text-anchor="middle">2.5</text>
<path d="M254.86,521.40 v1.6" stroke="#333" stroke-width="0.5"/>
<text x="254.86" y="530.00" text-anchor="middle">5.0</text>
<text x="202.06" y="539.20" text-anchor="middle">Difference</text><rect x="285.96" y="516.60" width="105.6" height="4.8" fill="url(#g_vir)" stroke="#444" stroke-width="0.5"/>
<path d="M285.96,521.40 v1.6" stroke="#333" stroke-width="0.5"/>
<text x="285.96" y="530.00" text-anchor="middle">0.000</text>
<path d="M312.36,521.40 v1.6" stroke="#333" stroke-width="0.5"/>
<text x="312.36" y="530.00" text-anchor="middle">0.025</text>
<path d="M338.76,521.40 v1.6" stroke="#333" stroke-width="0.5"/>
<text x="338.76" y="530.00" text-anchor="middle">0.050</text>
<path d="M365.16,521.40 v1.6" stroke="#333" stroke-width="0.5"/>
<text x="365.16" y="530.00" text-anchor="middle">0.075</text>
<path d="M391.56,521.40 v1.6" stroke="#333" stroke-width="0.5"/>
<text x="391.56" y="530.00" text-anchor="middle">0.100</text>
<text x="338.76" y="539.20" text-anchor="middle">p-value</text><rect x="422.66" y="516.60" width="105.6" height="4.8" fill="url(#g_bwr)" stroke="#444" stroke-width="0.5"/>
<path d="M422.66,521.40 v1.6" stroke="#333" stroke-width="0.5"/>
<text x="422.66" y="530.00" text-anchor="middle">−5.0</text>
<path d="M449.06,521.40 v1.6" stroke="#333" stroke-width="0.5"/>
<text x="449.06" y="530.00" text-anchor="middle">−2.5</text>
<path d="M475.46,521.40 v1.6" stroke="#333" stroke-width="0.5"/>
<text x="475.46" y="530.00" text-anchor="middle">0.0</text>
<path d="M501.86,521.40 v1.6" stroke="#333" stroke-width="0.5"/>
<text x="501.86" y="530.00" text-anchor="middle">2.5</text>
<path d="M528.26,521.40 v1.6" stroke="#333" stroke-width="0.5"/>
<text x="528.26" y="530.00" text-anchor="middle">5.0</text>
<text x="475.46" y="539.20" text-anchor="middle">Difference</text><rect x="559.36" y="516.60" width="105.6" height="4.8" fill="url(#g_vir)" stroke="#444" stroke-width="0.5"/>
<path d="M559.36,521.40 v1.6" stroke="#333" stroke-width="0.5"/>
<text x="559.36" y="530.00" text-anchor="middle">0.000</text>
<path d="M585.76,521.40 v1.6" stroke="#333" stroke-width="0.5"/>
<text x="585.76" y="530.00" text-anchor="middle">0.025</text>
<path d="M612.16,521.40 v1.6" stroke="#333" stroke-width="0.5"/>
<text x="612.16" y="530.00" text-anchor="middle">0.050</text>
<path d="M638.56,521.40 v1.6" stroke="#333" stroke-width="0.5"/>
<text x="638.56" y="530.00" text-anchor="middle">0.075</text>
<path d="M664.96,521.40 v1.6" stroke="#333" stroke-width="0.5"/>
<text x="664.96" y="530.00" text-anchor="middle">0.100</text>
<text x="612.16" y="539.20" text-anchor="middle">p-value</text>
</svg>
</body></html>
